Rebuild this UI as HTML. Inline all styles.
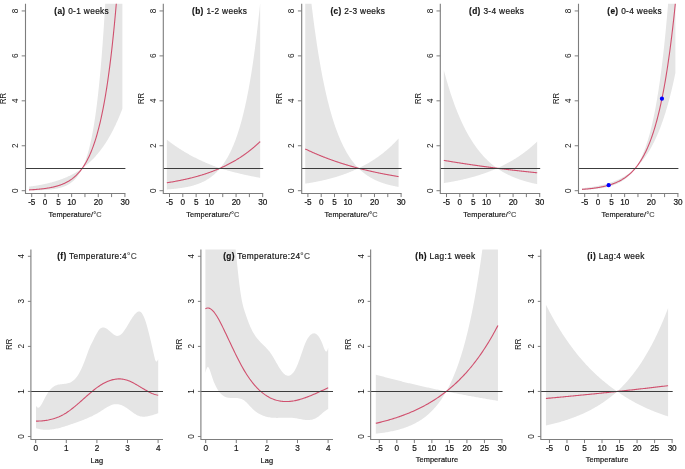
<!DOCTYPE html>
<html><head><meta charset="utf-8"><style>
html,body{margin:0;padding:0;background:#fff;width:685px;height:469px;overflow:hidden}
svg{display:block}
text{font-family:"Liberation Sans", sans-serif;fill:#151515;stroke:#151515;stroke-width:0.2px}
.tk{font-size:8.2px;letter-spacing:-0.15px}
.lb{font-size:7.4px;letter-spacing:0.1px}
.tt{font-size:8.3px;letter-spacing:0.35px}
.rr{font-size:8.4px}
.tkr{stroke:none}
.rr{stroke:none}
</style></head><body>
<svg width="685" height="469" viewBox="0 0 685 469">
<rect width="685" height="469" fill="#fff"/>
<clipPath id="ct0"><rect x="25.5" y="3.8" width="101.9" height="189.7"/></clipPath>
<g clip-path="url(#ct0)">
<path d="M29.04,186.68 L29.51,186.61 L29.98,186.55 L30.44,186.49 L30.91,186.43 L31.38,186.36 L31.85,186.29 L32.32,186.23 L32.79,186.16 L33.26,186.09 L33.73,186.02 L34.2,185.95 L34.67,185.87 L35.13,185.8 L35.6,185.73 L36.07,185.65 L36.54,185.57 L37.01,185.49 L37.48,185.42 L37.95,185.33 L38.42,185.25 L38.89,185.17 L39.36,185.09 L39.82,185 L40.29,184.91 L40.76,184.82 L41.23,184.73 L41.7,184.64 L42.17,184.55 L42.64,184.46 L43.11,184.36 L43.58,184.27 L44.05,184.17 L44.52,184.07 L44.98,183.97 L45.45,183.86 L45.92,183.76 L46.39,183.65 L46.86,183.55 L47.33,183.44 L47.8,183.33 L48.27,183.21 L48.74,183.1 L49.21,182.98 L49.67,182.86 L50.14,182.74 L50.61,182.62 L51.08,182.5 L51.55,182.38 L52.02,182.25 L52.49,182.12 L52.96,181.99 L53.43,181.86 L53.9,181.72 L54.36,181.58 L54.83,181.44 L55.3,181.3 L55.77,181.16 L56.24,181.01 L56.71,180.87 L57.18,180.72 L57.65,180.56 L58.12,180.41 L58.59,180.25 L59.06,180.09 L59.52,179.93 L59.99,179.77 L60.46,179.6 L60.93,179.43 L61.4,179.26 L61.87,179.08 L62.34,178.91 L62.81,178.73 L63.28,178.54 L63.75,178.36 L64.21,178.17 L64.68,177.98 L65.15,177.78 L65.62,177.59 L66.09,177.39 L66.56,177.18 L67.03,176.98 L67.5,176.77 L67.97,176.55 L68.44,176.34 L68.91,176.12 L69.37,175.9 L69.84,175.67 L70.31,175.44 L70.78,175.21 L71.25,174.97 L71.72,174.73 L72.19,174.49 L72.66,174.24 L73.13,173.99 L73.6,173.73 L74.06,173.48 L74.53,173.21 L75,172.95 L75.47,172.68 L75.94,172.4 L76.41,172.12 L76.88,171.84 L77.35,171.55 L77.82,171.26 L78.29,170.96 L78.75,170.66 L79.22,170.35 L79.69,170.04 L80.16,169.73 L80.63,169.41 L81.1,169.08 L81.57,168.75 L82.04,168.42 L82.51,167.79 L82.98,166.78 L83.45,165.72 L83.91,164.61 L84.38,163.45 L84.85,162.25 L85.32,160.99 L85.79,159.67 L86.26,158.3 L86.73,156.86 L87.2,155.37 L87.67,153.8 L88.14,152.17 L88.6,150.46 L89.07,148.68 L89.54,146.82 L90.01,144.87 L90.48,142.85 L90.95,140.73 L91.42,138.51 L91.89,136.2 L92.36,133.79 L92.83,131.27 L93.29,128.64 L93.76,125.89 L94.23,123.02 L94.7,120.02 L95.17,116.89 L95.64,113.63 L96.11,110.21 L96.58,106.65 L97.05,102.93 L97.52,99.04 L97.99,94.98 L98.45,90.74 L98.92,86.32 L99.39,81.69 L99.86,76.87 L100.33,71.83 L100.8,66.56 L101.27,61.07 L101.74,55.33 L102.21,49.33 L102.68,43.07 L103.14,36.53 L103.61,29.71 L104.08,22.58 L104.55,15.13 L105.02,7.36 L105.49,-0.76 L105.96,-9.24 L106.43,-18.09 L106.9,-27.33 L107.37,-36.99 L107.84,-47.07 L108.3,-50 L108.77,-50 L109.24,-50 L109.71,-50 L110.18,-50 L110.65,-50 L111.12,-50 L111.59,-50 L112.06,-50 L112.53,-50 L112.99,-50 L113.46,-50 L113.93,-50 L114.4,-50 L114.87,-50 L115.34,-50 L115.81,-50 L116.28,-50 L116.75,-50 L117.22,-50 L117.68,-50 L118.15,-50 L118.62,-50 L119.09,-50 L119.56,-50 L120.03,-50 L120.5,-50 L120.97,-50 L121.44,-50 L121.91,-50 L122.38,-50 L122.38,108.72 L121.91,109.95 L121.44,111.17 L120.97,112.36 L120.5,113.54 L120.03,114.7 L119.56,115.84 L119.09,116.97 L118.62,118.08 L118.15,119.17 L117.68,120.24 L117.22,121.3 L116.75,122.35 L116.28,123.37 L115.81,124.38 L115.34,125.38 L114.87,126.36 L114.4,127.33 L113.93,128.28 L113.46,129.22 L112.99,130.15 L112.53,131.06 L112.06,131.95 L111.59,132.84 L111.12,133.71 L110.65,134.56 L110.18,135.41 L109.71,136.24 L109.24,137.06 L108.77,137.86 L108.3,138.66 L107.84,139.44 L107.37,140.21 L106.9,140.97 L106.43,141.72 L105.96,142.45 L105.49,143.18 L105.02,143.89 L104.55,144.6 L104.08,145.29 L103.61,145.97 L103.14,146.64 L102.68,147.31 L102.21,147.96 L101.74,148.6 L101.27,149.23 L100.8,149.86 L100.33,150.47 L99.86,151.08 L99.39,151.67 L98.92,152.26 L98.45,152.84 L97.99,153.41 L97.52,153.97 L97.05,154.52 L96.58,155.06 L96.11,155.6 L95.64,156.13 L95.17,156.65 L94.7,157.16 L94.23,157.66 L93.76,158.16 L93.29,158.65 L92.83,159.13 L92.36,159.6 L91.89,160.07 L91.42,160.53 L90.95,160.99 L90.48,161.43 L90.01,161.87 L89.54,162.31 L89.07,162.73 L88.6,163.15 L88.14,163.57 L87.67,163.98 L87.2,164.38 L86.73,164.77 L86.26,165.16 L85.79,165.55 L85.32,165.92 L84.85,166.3 L84.38,166.66 L83.91,167.03 L83.45,167.38 L82.98,167.73 L82.51,168.08 L82.04,168.76 L81.57,169.69 L81.1,170.58 L80.63,171.44 L80.16,172.25 L79.69,173.03 L79.22,173.78 L78.75,174.5 L78.29,175.19 L77.82,175.85 L77.35,176.48 L76.88,177.08 L76.41,177.66 L75.94,178.21 L75.47,178.74 L75,179.25 L74.53,179.73 L74.06,180.2 L73.6,180.64 L73.13,181.07 L72.66,181.48 L72.19,181.87 L71.72,182.24 L71.25,182.6 L70.78,182.94 L70.31,183.27 L69.84,183.59 L69.37,183.89 L68.91,184.18 L68.44,184.46 L67.97,184.72 L67.5,184.97 L67.03,185.22 L66.56,185.45 L66.09,185.67 L65.62,185.88 L65.15,186.09 L64.68,186.28 L64.21,186.47 L63.75,186.65 L63.28,186.82 L62.81,186.99 L62.34,187.14 L61.87,187.3 L61.4,187.44 L60.93,187.58 L60.46,187.71 L59.99,187.84 L59.52,187.96 L59.06,188.07 L58.59,188.19 L58.12,188.29 L57.65,188.39 L57.18,188.49 L56.71,188.59 L56.24,188.68 L55.77,188.76 L55.3,188.84 L54.83,188.92 L54.36,189 L53.9,189.07 L53.43,189.14 L52.96,189.21 L52.49,189.27 L52.02,189.33 L51.55,189.39 L51.08,189.44 L50.61,189.5 L50.14,189.55 L49.67,189.6 L49.21,189.64 L48.74,189.69 L48.27,189.73 L47.8,189.77 L47.33,189.81 L46.86,189.85 L46.39,189.89 L45.92,189.92 L45.45,189.95 L44.98,189.98 L44.52,190.01 L44.05,190.04 L43.58,190.07 L43.11,190.1 L42.64,190.12 L42.17,190.15 L41.7,190.17 L41.23,190.19 L40.76,190.22 L40.29,190.24 L39.82,190.26 L39.36,190.27 L38.89,190.29 L38.42,190.31 L37.95,190.33 L37.48,190.34 L37.01,190.36 L36.54,190.37 L36.07,190.39 L35.6,190.4 L35.13,190.41 L34.67,190.42 L34.2,190.44 L33.73,190.45 L33.26,190.46 L32.79,190.47 L32.32,190.48 L31.85,190.49 L31.38,190.5 L30.91,190.5 L30.44,190.51 L29.98,190.52 L29.51,190.53 L29.04,190.54 Z" fill="#e5e5e5"/>
<path d="M29.04,189.89 L29.51,189.86 L29.98,189.84 L30.44,189.81 L30.91,189.79 L31.38,189.76 L31.85,189.73 L32.32,189.7 L32.79,189.67 L33.26,189.64 L33.73,189.61 L34.2,189.58 L34.67,189.55 L35.13,189.51 L35.6,189.48 L36.07,189.44 L36.54,189.4 L37.01,189.36 L37.48,189.32 L37.95,189.28 L38.42,189.24 L38.89,189.2 L39.36,189.15 L39.82,189.11 L40.29,189.06 L40.76,189.01 L41.23,188.96 L41.7,188.91 L42.17,188.86 L42.64,188.8 L43.11,188.75 L43.58,188.69 L44.05,188.63 L44.52,188.57 L44.98,188.5 L45.45,188.44 L45.92,188.37 L46.39,188.3 L46.86,188.23 L47.33,188.16 L47.8,188.08 L48.27,188.01 L48.74,187.93 L49.21,187.84 L49.67,187.76 L50.14,187.67 L50.61,187.58 L51.08,187.49 L51.55,187.39 L52.02,187.3 L52.49,187.2 L52.96,187.09 L53.43,186.98 L53.9,186.87 L54.36,186.76 L54.83,186.64 L55.3,186.52 L55.77,186.4 L56.24,186.27 L56.71,186.14 L57.18,186.01 L57.65,185.87 L58.12,185.72 L58.59,185.57 L59.06,185.42 L59.52,185.27 L59.99,185.11 L60.46,184.94 L60.93,184.77 L61.4,184.59 L61.87,184.41 L62.34,184.22 L62.81,184.03 L63.28,183.83 L63.75,183.63 L64.21,183.42 L64.68,183.2 L65.15,182.98 L65.62,182.75 L66.09,182.52 L66.56,182.28 L67.03,182.03 L67.5,181.77 L67.97,181.5 L68.44,181.23 L68.91,180.95 L69.37,180.66 L69.84,180.36 L70.31,180.05 L70.78,179.74 L71.25,179.41 L71.72,179.08 L72.19,178.73 L72.66,178.38 L73.13,178.01 L73.6,177.64 L74.06,177.25 L74.53,176.85 L75,176.44 L75.47,176.02 L75.94,175.58 L76.41,175.13 L76.88,174.67 L77.35,174.2 L77.82,173.71 L78.29,173.2 L78.75,172.68 L79.22,172.15 L79.69,171.6 L80.16,171.03 L80.63,170.45 L81.1,169.85 L81.57,169.23 L82.04,168.59 L82.51,167.93 L82.98,167.26 L83.45,166.56 L83.91,165.85 L84.38,165.11 L84.85,164.35 L85.32,163.57 L85.79,162.76 L86.26,161.93 L86.73,161.08 L87.2,160.2 L87.67,159.3 L88.14,158.37 L88.6,157.41 L89.07,156.42 L89.54,155.4 L90.01,154.35 L90.48,153.28 L90.95,152.17 L91.42,151.02 L91.89,149.84 L92.36,148.63 L92.83,147.38 L93.29,146.1 L93.76,144.78 L94.23,143.41 L94.7,142.01 L95.17,140.57 L95.64,139.08 L96.11,137.55 L96.58,135.97 L97.05,134.35 L97.52,132.67 L97.99,130.95 L98.45,129.18 L98.92,127.35 L99.39,125.48 L99.86,123.54 L100.33,121.55 L100.8,119.5 L101.27,117.38 L101.74,115.21 L102.21,112.97 L102.68,110.66 L103.14,108.29 L103.61,105.84 L104.08,103.32 L104.55,100.73 L105.02,98.06 L105.49,95.31 L105.96,92.48 L106.43,89.57 L106.9,86.57 L107.37,83.48 L107.84,80.3 L108.3,77.02 L108.77,73.65 L109.24,70.18 L109.71,66.6 L110.18,62.92 L110.65,59.13 L111.12,55.23 L111.59,51.21 L112.06,47.07 L112.53,42.81 L112.99,38.42 L113.46,33.9 L113.93,29.25 L114.4,24.46 L114.87,19.53 L115.34,14.45 L115.81,9.22 L116.28,3.83 L116.75,-1.71 L117.22,-7.42 L117.68,-13.3 L118.15,-19.35 L118.62,-25.58 L119.09,-32 L119.56,-38.61 L120.03,-45.41 L120.5,-50 L120.97,-50 L121.44,-50 L121.91,-50 L122.38,-50" fill="none" stroke="#d0506e" stroke-width="1.1"/>
</g>
<line x1="25.5" y1="168.5" x2="125.4" y2="168.5" stroke="#3c3c3c" stroke-width="1"/>
<path d="M25.5,3.8 V193.5 H125.4" fill="none" stroke="#7d7d7d" stroke-width="1.1"/>
<line x1="21.7" y1="190.7" x2="25.5" y2="190.7" stroke="#7d7d7d" stroke-width="1"/>
<line x1="21.7" y1="145.76" x2="25.5" y2="145.76" stroke="#7d7d7d" stroke-width="1"/>
<line x1="21.7" y1="100.82" x2="25.5" y2="100.82" stroke="#7d7d7d" stroke-width="1"/>
<line x1="21.7" y1="55.88" x2="25.5" y2="55.88" stroke="#7d7d7d" stroke-width="1"/>
<line x1="21.7" y1="10.94" x2="25.5" y2="10.94" stroke="#7d7d7d" stroke-width="1"/>
<line x1="31.7" y1="193.5" x2="31.7" y2="197.1" stroke="#7d7d7d" stroke-width="1"/>
<line x1="45.02" y1="193.5" x2="45.02" y2="197.1" stroke="#7d7d7d" stroke-width="1"/>
<line x1="58.33" y1="193.5" x2="58.33" y2="197.1" stroke="#7d7d7d" stroke-width="1"/>
<line x1="71.64" y1="193.5" x2="71.64" y2="197.1" stroke="#7d7d7d" stroke-width="1"/>
<line x1="84.96" y1="193.5" x2="84.96" y2="197.1" stroke="#7d7d7d" stroke-width="1"/>
<line x1="98.27" y1="193.5" x2="98.27" y2="197.1" stroke="#7d7d7d" stroke-width="1"/>
<line x1="111.59" y1="193.5" x2="111.59" y2="197.1" stroke="#7d7d7d" stroke-width="1"/>
<line x1="124.91" y1="193.5" x2="124.91" y2="197.1" stroke="#7d7d7d" stroke-width="1"/>
<clipPath id="ct1"><rect x="163.3" y="3.8" width="101.9" height="189.7"/></clipPath>
<g clip-path="url(#ct1)">
<path d="M166.84,139.68 L167.31,140.05 L167.78,140.41 L168.24,140.78 L168.71,141.13 L169.18,141.49 L169.65,141.85 L170.12,142.2 L170.59,142.55 L171.06,142.89 L171.53,143.24 L172,143.58 L172.47,143.92 L172.93,144.25 L173.4,144.59 L173.87,144.92 L174.34,145.25 L174.81,145.58 L175.28,145.9 L175.75,146.22 L176.22,146.54 L176.69,146.86 L177.16,147.18 L177.62,147.49 L178.09,147.8 L178.56,148.11 L179.03,148.42 L179.5,148.72 L179.97,149.02 L180.44,149.32 L180.91,149.62 L181.38,149.91 L181.85,150.21 L182.32,150.5 L182.78,150.79 L183.25,151.08 L183.72,151.36 L184.19,151.64 L184.66,151.93 L185.13,152.2 L185.6,152.48 L186.07,152.76 L186.54,153.03 L187.01,153.3 L187.47,153.57 L187.94,153.84 L188.41,154.1 L188.88,154.37 L189.35,154.63 L189.82,154.89 L190.29,155.14 L190.76,155.4 L191.23,155.65 L191.7,155.91 L192.16,156.16 L192.63,156.4 L193.1,156.65 L193.57,156.9 L194.04,157.14 L194.51,157.38 L194.98,157.62 L195.45,157.86 L195.92,158.1 L196.39,158.33 L196.86,158.56 L197.32,158.79 L197.79,159.02 L198.26,159.25 L198.73,159.48 L199.2,159.7 L199.67,159.93 L200.14,160.15 L200.61,160.37 L201.08,160.59 L201.55,160.8 L202.01,161.02 L202.48,161.23 L202.95,161.44 L203.42,161.65 L203.89,161.86 L204.36,162.07 L204.83,162.28 L205.3,162.48 L205.77,162.68 L206.24,162.88 L206.71,163.08 L207.17,163.28 L207.64,163.48 L208.11,163.68 L208.58,163.87 L209.05,164.06 L209.52,164.26 L209.99,164.45 L210.46,164.63 L210.93,164.82 L211.4,165.01 L211.86,165.19 L212.33,165.38 L212.8,165.56 L213.27,165.74 L213.74,165.92 L214.21,166.1 L214.68,166.28 L215.15,166.45 L215.62,166.63 L216.09,166.8 L216.55,166.97 L217.02,167.14 L217.49,167.31 L217.96,167.48 L218.43,167.65 L218.9,167.81 L219.37,167.98 L219.84,168.14 L220.31,167.98 L220.78,167.41 L221.25,166.82 L221.71,166.22 L222.18,165.61 L222.65,164.97 L223.12,164.33 L223.59,163.66 L224.06,162.98 L224.53,162.29 L225,161.57 L225.47,160.84 L225.94,160.09 L226.4,159.32 L226.87,158.53 L227.34,157.72 L227.81,156.89 L228.28,156.04 L228.75,155.17 L229.22,154.28 L229.69,153.36 L230.16,152.42 L230.63,151.46 L231.09,150.47 L231.56,149.46 L232.03,148.43 L232.5,147.36 L232.97,146.27 L233.44,145.16 L233.91,144.01 L234.38,142.84 L234.85,141.63 L235.32,140.4 L235.79,139.14 L236.25,137.84 L236.72,136.51 L237.19,135.15 L237.66,133.75 L238.13,132.32 L238.6,130.85 L239.07,129.34 L239.54,127.8 L240.01,126.22 L240.48,124.6 L240.94,122.94 L241.41,121.23 L241.88,119.49 L242.35,117.7 L242.82,115.86 L243.29,113.98 L243.76,112.05 L244.23,110.07 L244.7,108.04 L245.17,105.96 L245.64,103.83 L246.1,101.65 L246.57,99.41 L247.04,97.12 L247.51,94.76 L247.98,92.35 L248.45,89.88 L248.92,87.34 L249.39,84.74 L249.86,82.08 L250.33,79.35 L250.79,76.55 L251.26,73.68 L251.73,70.73 L252.2,67.72 L252.67,64.62 L253.14,61.45 L253.61,58.2 L254.08,54.87 L254.55,51.46 L255.02,47.96 L255.48,44.37 L255.95,40.69 L256.42,36.91 L256.89,33.05 L257.36,29.08 L257.83,25.02 L258.3,20.85 L258.77,16.58 L259.24,12.2 L259.71,7.72 L260.18,3.12 L260.18,177.82 L259.71,177.74 L259.24,177.66 L258.77,177.57 L258.3,177.48 L257.83,177.4 L257.36,177.31 L256.89,177.22 L256.42,177.14 L255.95,177.05 L255.48,176.96 L255.02,176.87 L254.55,176.78 L254.08,176.69 L253.61,176.59 L253.14,176.5 L252.67,176.41 L252.2,176.32 L251.73,176.22 L251.26,176.13 L250.79,176.03 L250.33,175.94 L249.86,175.84 L249.39,175.74 L248.92,175.64 L248.45,175.55 L247.98,175.45 L247.51,175.35 L247.04,175.25 L246.57,175.15 L246.1,175.04 L245.64,174.94 L245.17,174.84 L244.7,174.74 L244.23,174.63 L243.76,174.53 L243.29,174.42 L242.82,174.31 L242.35,174.21 L241.88,174.1 L241.41,173.99 L240.94,173.88 L240.48,173.77 L240.01,173.66 L239.54,173.55 L239.07,173.44 L238.6,173.32 L238.13,173.21 L237.66,173.1 L237.19,172.98 L236.72,172.86 L236.25,172.75 L235.79,172.63 L235.32,172.51 L234.85,172.39 L234.38,172.27 L233.91,172.15 L233.44,172.03 L232.97,171.91 L232.5,171.79 L232.03,171.66 L231.56,171.54 L231.09,171.41 L230.63,171.29 L230.16,171.16 L229.69,171.03 L229.22,170.9 L228.75,170.78 L228.28,170.65 L227.81,170.51 L227.34,170.38 L226.87,170.25 L226.4,170.12 L225.94,169.98 L225.47,169.85 L225,169.71 L224.53,169.57 L224.06,169.43 L223.59,169.29 L223.12,169.15 L222.65,169.01 L222.18,168.87 L221.71,168.73 L221.25,168.59 L220.78,168.44 L220.31,168.3 L219.84,168.54 L219.37,169.1 L218.9,169.65 L218.43,170.18 L217.96,170.7 L217.49,171.2 L217.02,171.69 L216.55,172.17 L216.09,172.64 L215.62,173.09 L215.15,173.54 L214.68,173.97 L214.21,174.39 L213.74,174.8 L213.27,175.2 L212.8,175.6 L212.33,175.98 L211.86,176.35 L211.4,176.71 L210.93,177.06 L210.46,177.41 L209.99,177.74 L209.52,178.07 L209.05,178.39 L208.58,178.7 L208.11,179 L207.64,179.29 L207.17,179.58 L206.71,179.86 L206.24,180.14 L205.77,180.4 L205.3,180.66 L204.83,180.92 L204.36,181.16 L203.89,181.4 L203.42,181.64 L202.95,181.87 L202.48,182.09 L202.01,182.31 L201.55,182.52 L201.08,182.72 L200.61,182.92 L200.14,183.12 L199.67,183.31 L199.2,183.5 L198.73,183.68 L198.26,183.86 L197.79,184.03 L197.32,184.2 L196.86,184.36 L196.39,184.52 L195.92,184.68 L195.45,184.83 L194.98,184.98 L194.51,185.12 L194.04,185.26 L193.57,185.4 L193.1,185.53 L192.63,185.66 L192.16,185.79 L191.7,185.91 L191.23,186.03 L190.76,186.15 L190.29,186.27 L189.82,186.38 L189.35,186.49 L188.88,186.59 L188.41,186.7 L187.94,186.8 L187.47,186.9 L187.01,186.99 L186.54,187.09 L186.07,187.18 L185.6,187.27 L185.13,187.35 L184.66,187.44 L184.19,187.52 L183.72,187.6 L183.25,187.68 L182.78,187.75 L182.32,187.83 L181.85,187.9 L181.38,187.97 L180.91,188.04 L180.44,188.11 L179.97,188.17 L179.5,188.24 L179.03,188.3 L178.56,188.36 L178.09,188.42 L177.62,188.48 L177.16,188.53 L176.69,188.59 L176.22,188.64 L175.75,188.69 L175.28,188.74 L174.81,188.79 L174.34,188.84 L173.87,188.89 L173.4,188.93 L172.93,188.98 L172.47,189.02 L172,189.06 L171.53,189.1 L171.06,189.14 L170.59,189.18 L170.12,189.22 L169.65,189.26 L169.18,189.3 L168.71,189.33 L168.24,189.37 L167.78,189.4 L167.31,189.43 L166.84,189.46 Z" fill="#e5e5e5"/>
<path d="M166.84,182.76 L167.31,182.68 L167.78,182.61 L168.24,182.54 L168.71,182.46 L169.18,182.39 L169.65,182.31 L170.12,182.23 L170.59,182.15 L171.06,182.08 L171.53,182 L172,181.92 L172.47,181.84 L172.93,181.75 L173.4,181.67 L173.87,181.59 L174.34,181.5 L174.81,181.42 L175.28,181.33 L175.75,181.25 L176.22,181.16 L176.69,181.07 L177.16,180.98 L177.62,180.9 L178.09,180.81 L178.56,180.71 L179.03,180.62 L179.5,180.53 L179.97,180.44 L180.44,180.34 L180.91,180.25 L181.38,180.15 L181.85,180.05 L182.32,179.96 L182.78,179.86 L183.25,179.76 L183.72,179.66 L184.19,179.55 L184.66,179.45 L185.13,179.35 L185.6,179.24 L186.07,179.14 L186.54,179.03 L187.01,178.92 L187.47,178.82 L187.94,178.71 L188.41,178.6 L188.88,178.49 L189.35,178.37 L189.82,178.26 L190.29,178.14 L190.76,178.03 L191.23,177.91 L191.7,177.8 L192.16,177.68 L192.63,177.56 L193.1,177.44 L193.57,177.31 L194.04,177.19 L194.51,177.07 L194.98,176.94 L195.45,176.81 L195.92,176.69 L196.39,176.56 L196.86,176.43 L197.32,176.3 L197.79,176.16 L198.26,176.03 L198.73,175.89 L199.2,175.76 L199.67,175.62 L200.14,175.48 L200.61,175.34 L201.08,175.2 L201.55,175.06 L202.01,174.91 L202.48,174.77 L202.95,174.62 L203.42,174.47 L203.89,174.33 L204.36,174.17 L204.83,174.02 L205.3,173.87 L205.77,173.71 L206.24,173.56 L206.71,173.4 L207.17,173.24 L207.64,173.08 L208.11,172.92 L208.58,172.75 L209.05,172.59 L209.52,172.42 L209.99,172.26 L210.46,172.09 L210.93,171.91 L211.4,171.74 L211.86,171.57 L212.33,171.39 L212.8,171.21 L213.27,171.03 L213.74,170.85 L214.21,170.67 L214.68,170.49 L215.15,170.3 L215.62,170.11 L216.09,169.92 L216.55,169.73 L217.02,169.54 L217.49,169.34 L217.96,169.15 L218.43,168.95 L218.9,168.75 L219.37,168.55 L219.84,168.34 L220.31,168.14 L220.78,167.93 L221.25,167.72 L221.71,167.51 L222.18,167.3 L222.65,167.08 L223.12,166.86 L223.59,166.64 L224.06,166.42 L224.53,166.2 L225,165.97 L225.47,165.75 L225.94,165.52 L226.4,165.28 L226.87,165.05 L227.34,164.81 L227.81,164.58 L228.28,164.34 L228.75,164.09 L229.22,163.85 L229.69,163.6 L230.16,163.35 L230.63,163.1 L231.09,162.85 L231.56,162.59 L232.03,162.33 L232.5,162.07 L232.97,161.81 L233.44,161.54 L233.91,161.27 L234.38,161 L234.85,160.73 L235.32,160.45 L235.79,160.18 L236.25,159.89 L236.72,159.61 L237.19,159.33 L237.66,159.04 L238.13,158.75 L238.6,158.45 L239.07,158.15 L239.54,157.86 L240.01,157.55 L240.48,157.25 L240.94,156.94 L241.41,156.63 L241.88,156.32 L242.35,156 L242.82,155.68 L243.29,155.36 L243.76,155.03 L244.23,154.7 L244.7,154.37 L245.17,154.04 L245.64,153.7 L246.1,153.36 L246.57,153.02 L247.04,152.67 L247.51,152.32 L247.98,151.97 L248.45,151.61 L248.92,151.25 L249.39,150.89 L249.86,150.52 L250.33,150.15 L250.79,149.78 L251.26,149.4 L251.73,149.02 L252.2,148.64 L252.67,148.25 L253.14,147.86 L253.61,147.47 L254.08,147.07 L254.55,146.67 L255.02,146.26 L255.48,145.86 L255.95,145.44 L256.42,145.03 L256.89,144.61 L257.36,144.18 L257.83,143.75 L258.3,143.32 L258.77,142.89 L259.24,142.45 L259.71,142 L260.18,141.55" fill="none" stroke="#d0506e" stroke-width="1.1"/>
</g>
<line x1="163.3" y1="168.5" x2="263.2" y2="168.5" stroke="#3c3c3c" stroke-width="1"/>
<path d="M163.3,3.8 V193.5 H263.2" fill="none" stroke="#7d7d7d" stroke-width="1.1"/>
<line x1="159.5" y1="190.7" x2="163.3" y2="190.7" stroke="#7d7d7d" stroke-width="1"/>
<line x1="159.5" y1="145.76" x2="163.3" y2="145.76" stroke="#7d7d7d" stroke-width="1"/>
<line x1="159.5" y1="100.82" x2="163.3" y2="100.82" stroke="#7d7d7d" stroke-width="1"/>
<line x1="159.5" y1="55.88" x2="163.3" y2="55.88" stroke="#7d7d7d" stroke-width="1"/>
<line x1="159.5" y1="10.94" x2="163.3" y2="10.94" stroke="#7d7d7d" stroke-width="1"/>
<line x1="169.5" y1="193.5" x2="169.5" y2="197.1" stroke="#7d7d7d" stroke-width="1"/>
<line x1="182.81" y1="193.5" x2="182.81" y2="197.1" stroke="#7d7d7d" stroke-width="1"/>
<line x1="196.13" y1="193.5" x2="196.13" y2="197.1" stroke="#7d7d7d" stroke-width="1"/>
<line x1="209.44" y1="193.5" x2="209.44" y2="197.1" stroke="#7d7d7d" stroke-width="1"/>
<line x1="222.76" y1="193.5" x2="222.76" y2="197.1" stroke="#7d7d7d" stroke-width="1"/>
<line x1="236.07" y1="193.5" x2="236.07" y2="197.1" stroke="#7d7d7d" stroke-width="1"/>
<line x1="249.39" y1="193.5" x2="249.39" y2="197.1" stroke="#7d7d7d" stroke-width="1"/>
<line x1="262.7" y1="193.5" x2="262.7" y2="197.1" stroke="#7d7d7d" stroke-width="1"/>
<clipPath id="ct2"><rect x="301.7" y="3.8" width="101.9" height="189.7"/></clipPath>
<g clip-path="url(#ct2)">
<path d="M305.24,-50 L305.71,-50 L306.18,-46.74 L306.64,-41.77 L307.11,-36.91 L307.58,-32.15 L308.05,-27.49 L308.52,-22.93 L308.99,-18.46 L309.46,-14.08 L309.93,-9.8 L310.4,-5.61 L310.87,-1.5 L311.33,2.52 L311.8,6.45 L312.27,10.31 L312.74,14.08 L313.21,17.77 L313.68,21.39 L314.15,24.93 L314.62,28.4 L315.09,31.79 L315.56,35.11 L316.02,38.37 L316.49,41.55 L316.96,44.67 L317.43,47.73 L317.9,50.72 L318.37,53.65 L318.84,56.51 L319.31,59.32 L319.78,62.07 L320.25,64.76 L320.72,67.39 L321.18,69.97 L321.65,72.49 L322.12,74.97 L322.59,77.39 L323.06,79.76 L323.53,82.08 L324,84.35 L324.47,86.57 L324.94,88.75 L325.41,90.88 L325.87,92.97 L326.34,95.01 L326.81,97.01 L327.28,98.97 L327.75,100.89 L328.22,102.77 L328.69,104.61 L329.16,106.41 L329.63,108.17 L330.1,109.9 L330.56,111.59 L331.03,113.24 L331.5,114.86 L331.97,116.45 L332.44,118 L332.91,119.52 L333.38,121.01 L333.85,122.47 L334.32,123.9 L334.79,125.29 L335.26,126.66 L335.72,128 L336.19,129.31 L336.66,130.6 L337.13,131.85 L337.6,133.08 L338.07,134.29 L338.54,135.47 L339.01,136.62 L339.48,137.75 L339.95,138.86 L340.41,139.95 L340.88,141.01 L341.35,142.05 L341.82,143.06 L342.29,144.06 L342.76,145.04 L343.23,145.99 L343.7,146.93 L344.17,147.84 L344.64,148.74 L345.11,149.61 L345.57,150.47 L346.04,151.32 L346.51,152.14 L346.98,152.95 L347.45,153.74 L347.92,154.51 L348.39,155.27 L348.86,156.01 L349.33,156.73 L349.8,157.44 L350.26,158.14 L350.73,158.82 L351.2,159.49 L351.67,160.14 L352.14,160.78 L352.61,161.4 L353.08,162.02 L353.55,162.62 L354.02,163.2 L354.49,163.78 L354.95,164.34 L355.42,164.89 L355.89,165.43 L356.36,165.96 L356.83,166.48 L357.3,166.98 L357.77,167.48 L358.24,167.97 L358.71,168.13 L359.18,167.91 L359.65,167.68 L360.11,167.45 L360.58,167.22 L361.05,166.99 L361.52,166.75 L361.99,166.52 L362.46,166.28 L362.93,166.04 L363.4,165.79 L363.87,165.54 L364.34,165.29 L364.8,165.04 L365.27,164.79 L365.74,164.53 L366.21,164.27 L366.68,164.01 L367.15,163.75 L367.62,163.48 L368.09,163.21 L368.56,162.94 L369.03,162.66 L369.49,162.38 L369.96,162.1 L370.43,161.82 L370.9,161.53 L371.37,161.24 L371.84,160.95 L372.31,160.66 L372.78,160.36 L373.25,160.06 L373.72,159.75 L374.19,159.45 L374.65,159.14 L375.12,158.83 L375.59,158.51 L376.06,158.19 L376.53,157.87 L377,157.54 L377.47,157.21 L377.94,156.88 L378.41,156.55 L378.88,156.21 L379.34,155.87 L379.81,155.52 L380.28,155.17 L380.75,154.82 L381.22,154.46 L381.69,154.11 L382.16,153.74 L382.63,153.38 L383.1,153.01 L383.57,152.63 L384.04,152.26 L384.5,151.87 L384.97,151.49 L385.44,151.1 L385.91,150.71 L386.38,150.31 L386.85,149.91 L387.32,149.51 L387.79,149.1 L388.26,148.69 L388.73,148.27 L389.19,147.85 L389.66,147.42 L390.13,147 L390.6,146.56 L391.07,146.13 L391.54,145.68 L392.01,145.24 L392.48,144.79 L392.95,144.33 L393.42,143.87 L393.88,143.41 L394.35,142.94 L394.82,142.47 L395.29,141.99 L395.76,141.5 L396.23,141.02 L396.7,140.52 L397.17,140.03 L397.64,139.52 L398.11,139.02 L398.58,138.51 L398.58,186.9 L398.11,186.82 L397.64,186.73 L397.17,186.65 L396.7,186.57 L396.23,186.48 L395.76,186.39 L395.29,186.3 L394.82,186.21 L394.35,186.11 L393.88,186.02 L393.42,185.92 L392.95,185.82 L392.48,185.71 L392.01,185.61 L391.54,185.5 L391.07,185.39 L390.6,185.28 L390.13,185.17 L389.66,185.05 L389.19,184.93 L388.73,184.81 L388.26,184.69 L387.79,184.56 L387.32,184.43 L386.85,184.3 L386.38,184.17 L385.91,184.03 L385.44,183.89 L384.97,183.75 L384.5,183.6 L384.04,183.45 L383.57,183.3 L383.1,183.15 L382.63,182.99 L382.16,182.82 L381.69,182.66 L381.22,182.49 L380.75,182.32 L380.28,182.14 L379.81,181.96 L379.34,181.78 L378.88,181.59 L378.41,181.4 L377.94,181.21 L377.47,181.01 L377,180.8 L376.53,180.59 L376.06,180.38 L375.59,180.17 L375.12,179.94 L374.65,179.72 L374.19,179.49 L373.72,179.25 L373.25,179.01 L372.78,178.77 L372.31,178.52 L371.84,178.26 L371.37,178 L370.9,177.73 L370.43,177.46 L369.96,177.18 L369.49,176.9 L369.03,176.61 L368.56,176.31 L368.09,176.01 L367.62,175.7 L367.15,175.39 L366.68,175.06 L366.21,174.74 L365.74,174.4 L365.27,174.06 L364.8,173.71 L364.34,173.35 L363.87,172.99 L363.4,172.62 L362.93,172.24 L362.46,171.85 L361.99,171.45 L361.52,171.05 L361.05,170.64 L360.58,170.21 L360.11,169.78 L359.65,169.34 L359.18,168.9 L358.71,168.44 L358.24,168.36 L357.77,168.58 L357.3,168.81 L356.83,169.03 L356.36,169.25 L355.89,169.47 L355.42,169.68 L354.95,169.9 L354.49,170.11 L354.02,170.32 L353.55,170.53 L353.08,170.73 L352.61,170.93 L352.14,171.14 L351.67,171.33 L351.2,171.53 L350.73,171.73 L350.26,171.92 L349.8,172.11 L349.33,172.3 L348.86,172.49 L348.39,172.67 L347.92,172.85 L347.45,173.04 L346.98,173.21 L346.51,173.39 L346.04,173.57 L345.57,173.74 L345.11,173.91 L344.64,174.09 L344.17,174.25 L343.7,174.42 L343.23,174.59 L342.76,174.75 L342.29,174.91 L341.82,175.07 L341.35,175.23 L340.88,175.39 L340.41,175.54 L339.95,175.7 L339.48,175.85 L339.01,176 L338.54,176.15 L338.07,176.3 L337.6,176.45 L337.13,176.59 L336.66,176.73 L336.19,176.88 L335.72,177.02 L335.26,177.16 L334.79,177.29 L334.32,177.43 L333.85,177.56 L333.38,177.7 L332.91,177.83 L332.44,177.96 L331.97,178.09 L331.5,178.22 L331.03,178.35 L330.56,178.47 L330.1,178.6 L329.63,178.72 L329.16,178.84 L328.69,178.96 L328.22,179.08 L327.75,179.2 L327.28,179.31 L326.81,179.43 L326.34,179.55 L325.87,179.66 L325.41,179.77 L324.94,179.88 L324.47,179.99 L324,180.1 L323.53,180.21 L323.06,180.31 L322.59,180.42 L322.12,180.52 L321.65,180.63 L321.18,180.73 L320.72,180.83 L320.25,180.93 L319.78,181.03 L319.31,181.13 L318.84,181.23 L318.37,181.32 L317.9,181.42 L317.43,181.51 L316.96,181.61 L316.49,181.7 L316.02,181.79 L315.56,181.88 L315.09,181.97 L314.62,182.06 L314.15,182.15 L313.68,182.23 L313.21,182.32 L312.74,182.41 L312.27,182.49 L311.8,182.57 L311.33,182.66 L310.87,182.74 L310.4,182.82 L309.93,182.9 L309.46,182.98 L308.99,183.06 L308.52,183.13 L308.05,183.21 L307.58,183.29 L307.11,183.36 L306.64,183.44 L306.18,183.51 L305.71,183.58 L305.24,183.66 Z" fill="#e5e5e5"/>
<path d="M305.24,148.93 L305.71,149.16 L306.18,149.38 L306.64,149.61 L307.11,149.83 L307.58,150.05 L308.05,150.28 L308.52,150.5 L308.99,150.72 L309.46,150.93 L309.93,151.15 L310.4,151.36 L310.87,151.58 L311.33,151.79 L311.8,152 L312.27,152.21 L312.74,152.42 L313.21,152.63 L313.68,152.84 L314.15,153.05 L314.62,153.25 L315.09,153.45 L315.56,153.66 L316.02,153.86 L316.49,154.06 L316.96,154.26 L317.43,154.46 L317.9,154.66 L318.37,154.85 L318.84,155.05 L319.31,155.24 L319.78,155.43 L320.25,155.63 L320.72,155.82 L321.18,156.01 L321.65,156.2 L322.12,156.38 L322.59,156.57 L323.06,156.76 L323.53,156.94 L324,157.13 L324.47,157.31 L324.94,157.49 L325.41,157.67 L325.87,157.85 L326.34,158.03 L326.81,158.21 L327.28,158.38 L327.75,158.56 L328.22,158.74 L328.69,158.91 L329.16,159.08 L329.63,159.25 L330.1,159.43 L330.56,159.6 L331.03,159.77 L331.5,159.93 L331.97,160.1 L332.44,160.27 L332.91,160.43 L333.38,160.6 L333.85,160.76 L334.32,160.93 L334.79,161.09 L335.26,161.25 L335.72,161.41 L336.19,161.57 L336.66,161.73 L337.13,161.88 L337.6,162.04 L338.07,162.2 L338.54,162.35 L339.01,162.51 L339.48,162.66 L339.95,162.81 L340.41,162.97 L340.88,163.12 L341.35,163.27 L341.82,163.42 L342.29,163.56 L342.76,163.71 L343.23,163.86 L343.7,164.01 L344.17,164.15 L344.64,164.3 L345.11,164.44 L345.57,164.58 L346.04,164.72 L346.51,164.87 L346.98,165.01 L347.45,165.15 L347.92,165.29 L348.39,165.42 L348.86,165.56 L349.33,165.7 L349.8,165.83 L350.26,165.97 L350.73,166.1 L351.2,166.24 L351.67,166.37 L352.14,166.5 L352.61,166.64 L353.08,166.77 L353.55,166.9 L354.02,167.03 L354.49,167.16 L354.95,167.28 L355.42,167.41 L355.89,167.54 L356.36,167.66 L356.83,167.79 L357.3,167.91 L357.77,168.04 L358.24,168.16 L358.71,168.28 L359.18,168.41 L359.65,168.53 L360.11,168.65 L360.58,168.77 L361.05,168.89 L361.52,169.01 L361.99,169.13 L362.46,169.24 L362.93,169.36 L363.4,169.48 L363.87,169.59 L364.34,169.71 L364.8,169.82 L365.27,169.93 L365.74,170.05 L366.21,170.16 L366.68,170.27 L367.15,170.38 L367.62,170.49 L368.09,170.6 L368.56,170.71 L369.03,170.82 L369.49,170.93 L369.96,171.04 L370.43,171.14 L370.9,171.25 L371.37,171.36 L371.84,171.46 L372.31,171.57 L372.78,171.67 L373.25,171.78 L373.72,171.88 L374.19,171.98 L374.65,172.08 L375.12,172.18 L375.59,172.28 L376.06,172.39 L376.53,172.48 L377,172.58 L377.47,172.68 L377.94,172.78 L378.41,172.88 L378.88,172.98 L379.34,173.07 L379.81,173.17 L380.28,173.26 L380.75,173.36 L381.22,173.45 L381.69,173.55 L382.16,173.64 L382.63,173.73 L383.1,173.83 L383.57,173.92 L384.04,174.01 L384.5,174.1 L384.97,174.19 L385.44,174.28 L385.91,174.37 L386.38,174.46 L386.85,174.55 L387.32,174.63 L387.79,174.72 L388.26,174.81 L388.73,174.9 L389.19,174.98 L389.66,175.07 L390.13,175.15 L390.6,175.24 L391.07,175.32 L391.54,175.4 L392.01,175.49 L392.48,175.57 L392.95,175.65 L393.42,175.74 L393.88,175.82 L394.35,175.9 L394.82,175.98 L395.29,176.06 L395.76,176.14 L396.23,176.22 L396.7,176.3 L397.17,176.37 L397.64,176.45 L398.11,176.53 L398.58,176.61" fill="none" stroke="#d0506e" stroke-width="1.1"/>
</g>
<line x1="301.7" y1="168.5" x2="401.6" y2="168.5" stroke="#3c3c3c" stroke-width="1"/>
<path d="M301.7,3.8 V193.5 H401.6" fill="none" stroke="#7d7d7d" stroke-width="1.1"/>
<line x1="297.9" y1="190.7" x2="301.7" y2="190.7" stroke="#7d7d7d" stroke-width="1"/>
<line x1="297.9" y1="145.76" x2="301.7" y2="145.76" stroke="#7d7d7d" stroke-width="1"/>
<line x1="297.9" y1="100.82" x2="301.7" y2="100.82" stroke="#7d7d7d" stroke-width="1"/>
<line x1="297.9" y1="55.88" x2="301.7" y2="55.88" stroke="#7d7d7d" stroke-width="1"/>
<line x1="297.9" y1="10.94" x2="301.7" y2="10.94" stroke="#7d7d7d" stroke-width="1"/>
<line x1="307.9" y1="193.5" x2="307.9" y2="197.1" stroke="#7d7d7d" stroke-width="1"/>
<line x1="321.21" y1="193.5" x2="321.21" y2="197.1" stroke="#7d7d7d" stroke-width="1"/>
<line x1="334.53" y1="193.5" x2="334.53" y2="197.1" stroke="#7d7d7d" stroke-width="1"/>
<line x1="347.84" y1="193.5" x2="347.84" y2="197.1" stroke="#7d7d7d" stroke-width="1"/>
<line x1="361.16" y1="193.5" x2="361.16" y2="197.1" stroke="#7d7d7d" stroke-width="1"/>
<line x1="374.47" y1="193.5" x2="374.47" y2="197.1" stroke="#7d7d7d" stroke-width="1"/>
<line x1="387.79" y1="193.5" x2="387.79" y2="197.1" stroke="#7d7d7d" stroke-width="1"/>
<line x1="401.1" y1="193.5" x2="401.1" y2="197.1" stroke="#7d7d7d" stroke-width="1"/>
<clipPath id="ct3"><rect x="440.3" y="3.8" width="101.9" height="189.7"/></clipPath>
<g clip-path="url(#ct3)">
<path d="M443.84,70.14 L444.31,71.91 L444.78,73.65 L445.24,75.37 L445.71,77.06 L446.18,78.73 L446.65,80.38 L447.12,82 L447.59,83.59 L448.06,85.17 L448.53,86.72 L449,88.24 L449.47,89.75 L449.93,91.23 L450.4,92.69 L450.87,94.13 L451.34,95.55 L451.81,96.95 L452.28,98.32 L452.75,99.68 L453.22,101.02 L453.69,102.33 L454.16,103.63 L454.62,104.91 L455.09,106.17 L455.56,107.41 L456.03,108.63 L456.5,109.84 L456.97,111.03 L457.44,112.2 L457.91,113.35 L458.38,114.49 L458.85,115.61 L459.32,116.71 L459.78,117.8 L460.25,118.87 L460.72,119.92 L461.19,120.96 L461.66,121.98 L462.13,122.99 L462.6,123.99 L463.07,124.97 L463.54,125.93 L464.01,126.88 L464.47,127.82 L464.94,128.75 L465.41,129.65 L465.88,130.55 L466.35,131.43 L466.82,132.31 L467.29,133.16 L467.76,134.01 L468.23,134.84 L468.7,135.66 L469.16,136.47 L469.63,137.27 L470.1,138.05 L470.57,138.82 L471.04,139.59 L471.51,140.34 L471.98,141.08 L472.45,141.8 L472.92,142.52 L473.39,143.23 L473.86,143.93 L474.32,144.61 L474.79,145.29 L475.26,145.96 L475.73,146.61 L476.2,147.26 L476.67,147.9 L477.14,148.53 L477.61,149.15 L478.08,149.76 L478.55,150.36 L479.01,150.95 L479.48,151.54 L479.95,152.11 L480.42,152.68 L480.89,153.24 L481.36,153.79 L481.83,154.33 L482.3,154.86 L482.77,155.39 L483.24,155.91 L483.71,156.42 L484.17,156.92 L484.64,157.42 L485.11,157.91 L485.58,158.39 L486.05,158.86 L486.52,159.33 L486.99,159.79 L487.46,160.25 L487.93,160.69 L488.4,161.13 L488.86,161.57 L489.33,162 L489.8,162.42 L490.27,162.83 L490.74,163.24 L491.21,163.64 L491.68,164.04 L492.15,164.43 L492.62,164.82 L493.09,165.2 L493.55,165.57 L494.02,165.94 L494.49,166.31 L494.96,166.66 L495.43,167.02 L495.9,167.37 L496.37,167.71 L496.84,168.05 L497.31,168.14 L497.78,167.93 L498.25,167.72 L498.71,167.51 L499.18,167.3 L499.65,167.08 L500.12,166.86 L500.59,166.64 L501.06,166.42 L501.53,166.2 L502,165.97 L502.47,165.75 L502.94,165.52 L503.4,165.28 L503.87,165.05 L504.34,164.81 L504.81,164.58 L505.28,164.34 L505.75,164.09 L506.22,163.85 L506.69,163.6 L507.16,163.35 L507.63,163.1 L508.09,162.85 L508.56,162.59 L509.03,162.33 L509.5,162.07 L509.97,161.81 L510.44,161.54 L510.91,161.27 L511.38,161 L511.85,160.73 L512.32,160.45 L512.79,160.18 L513.25,159.89 L513.72,159.61 L514.19,159.33 L514.66,159.04 L515.13,158.75 L515.6,158.45 L516.07,158.15 L516.54,157.86 L517.01,157.55 L517.48,157.25 L517.94,156.94 L518.41,156.63 L518.88,156.32 L519.35,156 L519.82,155.68 L520.29,155.36 L520.76,155.03 L521.23,154.7 L521.7,154.37 L522.17,154.04 L522.64,153.7 L523.1,153.36 L523.57,153.02 L524.04,152.67 L524.51,152.32 L524.98,151.97 L525.45,151.61 L525.92,151.25 L526.39,150.89 L526.86,150.52 L527.33,150.15 L527.79,149.78 L528.26,149.4 L528.73,149.02 L529.2,148.64 L529.67,148.25 L530.14,147.86 L530.61,147.47 L531.08,147.07 L531.55,146.67 L532.02,146.26 L532.48,145.86 L532.95,145.44 L533.42,145.03 L533.89,144.61 L534.36,144.18 L534.83,143.75 L535.3,143.32 L535.77,142.89 L536.24,142.45 L536.71,142 L537.18,141.55 L537.18,184.16 L536.71,184.06 L536.24,183.97 L535.77,183.87 L535.3,183.77 L534.83,183.67 L534.36,183.57 L533.89,183.46 L533.42,183.36 L532.95,183.25 L532.48,183.14 L532.02,183.03 L531.55,182.92 L531.08,182.81 L530.61,182.69 L530.14,182.58 L529.67,182.46 L529.2,182.34 L528.73,182.22 L528.26,182.09 L527.79,181.97 L527.33,181.84 L526.86,181.71 L526.39,181.58 L525.92,181.45 L525.45,181.31 L524.98,181.18 L524.51,181.04 L524.04,180.9 L523.57,180.76 L523.1,180.61 L522.64,180.47 L522.17,180.32 L521.7,180.17 L521.23,180.01 L520.76,179.86 L520.29,179.7 L519.82,179.54 L519.35,179.38 L518.88,179.21 L518.41,179.04 L517.94,178.87 L517.48,178.7 L517.01,178.53 L516.54,178.35 L516.07,178.17 L515.6,177.99 L515.13,177.8 L514.66,177.62 L514.19,177.43 L513.72,177.23 L513.25,177.04 L512.79,176.84 L512.32,176.64 L511.85,176.43 L511.38,176.22 L510.91,176.01 L510.44,175.8 L509.97,175.58 L509.5,175.36 L509.03,175.14 L508.56,174.91 L508.09,174.68 L507.63,174.45 L507.16,174.22 L506.69,173.98 L506.22,173.73 L505.75,173.49 L505.28,173.24 L504.81,172.98 L504.34,172.72 L503.87,172.46 L503.4,172.2 L502.94,171.93 L502.47,171.65 L502,171.38 L501.53,171.1 L501.06,170.81 L500.59,170.52 L500.12,170.23 L499.65,169.93 L499.18,169.63 L498.71,169.32 L498.25,169.01 L497.78,168.7 L497.31,168.37 L496.84,168.35 L496.37,168.56 L495.9,168.77 L495.43,168.98 L494.96,169.18 L494.49,169.39 L494.02,169.59 L493.55,169.79 L493.09,169.99 L492.62,170.18 L492.15,170.38 L491.68,170.57 L491.21,170.76 L490.74,170.95 L490.27,171.13 L489.8,171.32 L489.33,171.5 L488.86,171.68 L488.4,171.86 L487.93,172.04 L487.46,172.22 L486.99,172.39 L486.52,172.57 L486.05,172.74 L485.58,172.91 L485.11,173.08 L484.64,173.24 L484.17,173.41 L483.71,173.57 L483.24,173.74 L482.77,173.9 L482.3,174.06 L481.83,174.21 L481.36,174.37 L480.89,174.52 L480.42,174.68 L479.95,174.83 L479.48,174.98 L479.01,175.13 L478.55,175.27 L478.08,175.42 L477.61,175.57 L477.14,175.71 L476.67,175.85 L476.2,175.99 L475.73,176.13 L475.26,176.27 L474.79,176.4 L474.32,176.54 L473.86,176.67 L473.39,176.81 L472.92,176.94 L472.45,177.07 L471.98,177.2 L471.51,177.33 L471.04,177.45 L470.57,177.58 L470.1,177.7 L469.63,177.82 L469.16,177.95 L468.7,178.07 L468.23,178.19 L467.76,178.31 L467.29,178.42 L466.82,178.54 L466.35,178.65 L465.88,178.77 L465.41,178.88 L464.94,178.99 L464.47,179.1 L464.01,179.21 L463.54,179.32 L463.07,179.43 L462.6,179.54 L462.13,179.64 L461.66,179.75 L461.19,179.85 L460.72,179.95 L460.25,180.06 L459.78,180.16 L459.32,180.26 L458.85,180.35 L458.38,180.45 L457.91,180.55 L457.44,180.65 L456.97,180.74 L456.5,180.84 L456.03,180.93 L455.56,181.02 L455.09,181.11 L454.62,181.2 L454.16,181.29 L453.69,181.38 L453.22,181.47 L452.75,181.56 L452.28,181.64 L451.81,181.73 L451.34,181.82 L450.87,181.9 L450.4,181.98 L449.93,182.06 L449.47,182.15 L449,182.23 L448.53,182.31 L448.06,182.39 L447.59,182.47 L447.12,182.54 L446.65,182.62 L446.18,182.7 L445.71,182.77 L445.24,182.85 L444.78,182.92 L444.31,183 L443.84,183.07 Z" fill="#e5e5e5"/>
<path d="M443.84,160.37 L444.31,160.45 L444.78,160.53 L445.24,160.61 L445.71,160.69 L446.18,160.77 L446.65,160.85 L447.12,160.92 L447.59,161 L448.06,161.08 L448.53,161.16 L449,161.24 L449.47,161.32 L449.93,161.39 L450.4,161.47 L450.87,161.55 L451.34,161.62 L451.81,161.7 L452.28,161.78 L452.75,161.85 L453.22,161.93 L453.69,162.01 L454.16,162.08 L454.62,162.16 L455.09,162.23 L455.56,162.31 L456.03,162.38 L456.5,162.46 L456.97,162.53 L457.44,162.61 L457.91,162.68 L458.38,162.75 L458.85,162.83 L459.32,162.9 L459.78,162.97 L460.25,163.05 L460.72,163.12 L461.19,163.19 L461.66,163.27 L462.13,163.34 L462.6,163.41 L463.07,163.48 L463.54,163.55 L464.01,163.63 L464.47,163.7 L464.94,163.77 L465.41,163.84 L465.88,163.91 L466.35,163.98 L466.82,164.05 L467.29,164.12 L467.76,164.19 L468.23,164.26 L468.7,164.33 L469.16,164.4 L469.63,164.47 L470.1,164.54 L470.57,164.61 L471.04,164.68 L471.51,164.75 L471.98,164.82 L472.45,164.88 L472.92,164.95 L473.39,165.02 L473.86,165.09 L474.32,165.15 L474.79,165.22 L475.26,165.29 L475.73,165.36 L476.2,165.42 L476.67,165.49 L477.14,165.56 L477.61,165.62 L478.08,165.69 L478.55,165.75 L479.01,165.82 L479.48,165.89 L479.95,165.95 L480.42,166.02 L480.89,166.08 L481.36,166.15 L481.83,166.21 L482.3,166.28 L482.77,166.34 L483.24,166.41 L483.71,166.47 L484.17,166.53 L484.64,166.6 L485.11,166.66 L485.58,166.72 L486.05,166.79 L486.52,166.85 L486.99,166.91 L487.46,166.98 L487.93,167.04 L488.4,167.1 L488.86,167.16 L489.33,167.23 L489.8,167.29 L490.27,167.35 L490.74,167.41 L491.21,167.47 L491.68,167.53 L492.15,167.59 L492.62,167.66 L493.09,167.72 L493.55,167.78 L494.02,167.84 L494.49,167.9 L494.96,167.96 L495.43,168.02 L495.9,168.08 L496.37,168.14 L496.84,168.2 L497.31,168.26 L497.78,168.32 L498.25,168.37 L498.71,168.43 L499.18,168.49 L499.65,168.55 L500.12,168.61 L500.59,168.67 L501.06,168.73 L501.53,168.78 L502,168.84 L502.47,168.9 L502.94,168.96 L503.4,169.01 L503.87,169.07 L504.34,169.13 L504.81,169.19 L505.28,169.24 L505.75,169.3 L506.22,169.36 L506.69,169.41 L507.16,169.47 L507.63,169.52 L508.09,169.58 L508.56,169.64 L509.03,169.69 L509.5,169.75 L509.97,169.8 L510.44,169.86 L510.91,169.91 L511.38,169.97 L511.85,170.02 L512.32,170.08 L512.79,170.13 L513.25,170.18 L513.72,170.24 L514.19,170.29 L514.66,170.35 L515.13,170.4 L515.6,170.45 L516.07,170.51 L516.54,170.56 L517.01,170.61 L517.48,170.67 L517.94,170.72 L518.41,170.77 L518.88,170.82 L519.35,170.88 L519.82,170.93 L520.29,170.98 L520.76,171.03 L521.23,171.09 L521.7,171.14 L522.17,171.19 L522.64,171.24 L523.1,171.29 L523.57,171.34 L524.04,171.39 L524.51,171.45 L524.98,171.5 L525.45,171.55 L525.92,171.6 L526.39,171.65 L526.86,171.7 L527.33,171.75 L527.79,171.8 L528.26,171.85 L528.73,171.9 L529.2,171.95 L529.67,172 L530.14,172.05 L530.61,172.1 L531.08,172.14 L531.55,172.19 L532.02,172.24 L532.48,172.29 L532.95,172.34 L533.42,172.39 L533.89,172.44 L534.36,172.48 L534.83,172.53 L535.3,172.58 L535.77,172.63 L536.24,172.68 L536.71,172.72 L537.18,172.77" fill="none" stroke="#d0506e" stroke-width="1.1"/>
</g>
<line x1="440.3" y1="168.5" x2="540.2" y2="168.5" stroke="#3c3c3c" stroke-width="1"/>
<path d="M440.3,3.8 V193.5 H540.2" fill="none" stroke="#7d7d7d" stroke-width="1.1"/>
<line x1="436.5" y1="190.7" x2="440.3" y2="190.7" stroke="#7d7d7d" stroke-width="1"/>
<line x1="436.5" y1="145.76" x2="440.3" y2="145.76" stroke="#7d7d7d" stroke-width="1"/>
<line x1="436.5" y1="100.82" x2="440.3" y2="100.82" stroke="#7d7d7d" stroke-width="1"/>
<line x1="436.5" y1="55.88" x2="440.3" y2="55.88" stroke="#7d7d7d" stroke-width="1"/>
<line x1="436.5" y1="10.94" x2="440.3" y2="10.94" stroke="#7d7d7d" stroke-width="1"/>
<line x1="446.5" y1="193.5" x2="446.5" y2="197.1" stroke="#7d7d7d" stroke-width="1"/>
<line x1="459.81" y1="193.5" x2="459.81" y2="197.1" stroke="#7d7d7d" stroke-width="1"/>
<line x1="473.13" y1="193.5" x2="473.13" y2="197.1" stroke="#7d7d7d" stroke-width="1"/>
<line x1="486.44" y1="193.5" x2="486.44" y2="197.1" stroke="#7d7d7d" stroke-width="1"/>
<line x1="499.76" y1="193.5" x2="499.76" y2="197.1" stroke="#7d7d7d" stroke-width="1"/>
<line x1="513.08" y1="193.5" x2="513.08" y2="197.1" stroke="#7d7d7d" stroke-width="1"/>
<line x1="526.39" y1="193.5" x2="526.39" y2="197.1" stroke="#7d7d7d" stroke-width="1"/>
<line x1="539.71" y1="193.5" x2="539.71" y2="197.1" stroke="#7d7d7d" stroke-width="1"/>
<clipPath id="ct4"><rect x="578.5" y="3.8" width="101.9" height="189.7"/></clipPath>
<g clip-path="url(#ct4)">
<path d="M582.04,188.21 L582.51,188.16 L582.98,188.11 L583.44,188.06 L583.91,188.01 L584.38,187.96 L584.85,187.9 L585.32,187.85 L585.79,187.79 L586.26,187.74 L586.73,187.68 L587.2,187.62 L587.67,187.56 L588.13,187.5 L588.6,187.43 L589.07,187.37 L589.54,187.31 L590.01,187.24 L590.48,187.17 L590.95,187.1 L591.42,187.03 L591.89,186.96 L592.36,186.89 L592.82,186.81 L593.29,186.74 L593.76,186.66 L594.23,186.58 L594.7,186.5 L595.17,186.42 L595.64,186.33 L596.11,186.25 L596.58,186.16 L597.05,186.07 L597.52,185.98 L597.98,185.89 L598.45,185.79 L598.92,185.7 L599.39,185.6 L599.86,185.5 L600.33,185.4 L600.8,185.3 L601.27,185.19 L601.74,185.08 L602.21,184.97 L602.67,184.86 L603.14,184.75 L603.61,184.63 L604.08,184.51 L604.55,184.39 L605.02,184.27 L605.49,184.14 L605.96,184.01 L606.43,183.88 L606.9,183.75 L607.36,183.61 L607.83,183.47 L608.3,183.33 L608.77,183.19 L609.24,183.04 L609.71,182.89 L610.18,182.74 L610.65,182.58 L611.12,182.42 L611.59,182.26 L612.06,182.1 L612.52,181.93 L612.99,181.76 L613.46,181.58 L613.93,181.4 L614.4,181.22 L614.87,181.04 L615.34,180.85 L615.81,180.65 L616.28,180.46 L616.75,180.26 L617.21,180.05 L617.68,179.84 L618.15,179.63 L618.62,179.42 L619.09,179.2 L619.56,178.97 L620.03,178.74 L620.5,178.51 L620.97,178.27 L621.44,178.03 L621.91,177.78 L622.37,177.52 L622.84,177.27 L623.31,177 L623.78,176.74 L624.25,176.46 L624.72,176.18 L625.19,175.9 L625.66,175.61 L626.13,175.32 L626.6,175.01 L627.06,174.71 L627.53,174.39 L628,174.08 L628.47,173.75 L628.94,173.42 L629.41,173.08 L629.88,172.74 L630.35,172.38 L630.82,172.03 L631.29,171.66 L631.75,171.29 L632.22,170.91 L632.69,170.52 L633.16,170.13 L633.63,169.72 L634.1,169.31 L634.57,168.9 L635.04,168.47 L635.51,167.92 L635.98,167.22 L636.45,166.5 L636.91,165.76 L637.38,164.99 L637.85,164.2 L638.32,163.38 L638.79,162.54 L639.26,161.68 L639.73,160.78 L640.2,159.86 L640.67,158.92 L641.14,157.94 L641.6,156.93 L642.07,155.89 L642.54,154.82 L643.01,153.72 L643.48,152.58 L643.95,151.41 L644.42,150.2 L644.89,148.95 L645.36,147.67 L645.83,146.34 L646.29,144.98 L646.76,143.57 L647.23,142.12 L647.7,140.63 L648.17,139.09 L648.64,137.5 L649.11,135.87 L649.58,134.18 L650.05,132.44 L650.52,130.65 L650.99,128.8 L651.45,126.9 L651.92,124.94 L652.39,122.91 L652.86,120.83 L653.33,118.68 L653.8,116.47 L654.27,114.18 L654.74,111.83 L655.21,109.4 L655.68,106.9 L656.14,104.32 L656.61,101.67 L657.08,98.93 L657.55,96.11 L658.02,93.2 L658.49,90.2 L658.96,87.11 L659.43,83.92 L659.9,80.64 L660.37,77.25 L660.84,73.76 L661.3,70.16 L661.77,66.46 L662.24,62.64 L662.71,58.7 L663.18,54.64 L663.65,50.45 L664.12,46.14 L664.59,41.69 L665.06,37.11 L665.53,32.38 L665.99,27.51 L666.46,22.49 L666.93,17.32 L667.4,11.99 L667.87,6.49 L668.34,0.83 L668.81,-5.01 L669.28,-11.03 L669.75,-17.24 L670.22,-23.64 L670.68,-30.23 L671.15,-37.02 L671.62,-44.03 L672.09,-50 L672.56,-50 L673.03,-50 L673.5,-50 L673.97,-50 L674.44,-50 L674.91,-50 L675.38,-50 L675.38,73.05 L674.91,75.31 L674.44,77.53 L673.97,79.7 L673.5,81.83 L673.03,83.92 L672.56,85.96 L672.09,87.97 L671.62,89.95 L671.15,91.88 L670.68,93.78 L670.22,95.63 L669.75,97.46 L669.28,99.25 L668.81,101 L668.34,102.72 L667.87,104.41 L667.4,106.07 L666.93,107.69 L666.46,109.28 L665.99,110.85 L665.53,112.38 L665.06,113.88 L664.59,115.36 L664.12,116.8 L663.65,118.22 L663.18,119.61 L662.71,120.97 L662.24,122.31 L661.77,123.62 L661.3,124.91 L660.84,126.17 L660.37,127.41 L659.9,128.63 L659.43,129.82 L658.96,130.99 L658.49,132.13 L658.02,133.25 L657.55,134.36 L657.08,135.44 L656.61,136.5 L656.14,137.54 L655.68,138.56 L655.21,139.56 L654.74,140.54 L654.27,141.5 L653.8,142.45 L653.33,143.37 L652.86,144.28 L652.39,145.17 L651.92,146.05 L651.45,146.9 L650.99,147.74 L650.52,148.57 L650.05,149.38 L649.58,150.17 L649.11,150.95 L648.64,151.71 L648.17,152.46 L647.7,153.19 L647.23,153.91 L646.76,154.62 L646.29,155.31 L645.83,155.99 L645.36,156.65 L644.89,157.31 L644.42,157.95 L643.95,158.58 L643.48,159.19 L643.01,159.8 L642.54,160.39 L642.07,160.97 L641.6,161.54 L641.14,162.1 L640.67,162.65 L640.2,163.19 L639.73,163.72 L639.26,164.23 L638.79,164.74 L638.32,165.24 L637.85,165.73 L637.38,166.21 L636.91,166.68 L636.45,167.14 L635.98,167.59 L635.51,168.03 L635.04,168.6 L634.57,169.26 L634.1,169.9 L633.63,170.52 L633.16,171.12 L632.69,171.71 L632.22,172.28 L631.75,172.83 L631.29,173.36 L630.82,173.88 L630.35,174.38 L629.88,174.87 L629.41,175.34 L628.94,175.8 L628.47,176.24 L628,176.67 L627.53,177.09 L627.06,177.5 L626.6,177.89 L626.13,178.27 L625.66,178.64 L625.19,179 L624.72,179.35 L624.25,179.69 L623.78,180.02 L623.31,180.34 L622.84,180.65 L622.37,180.95 L621.91,181.24 L621.44,181.52 L620.97,181.79 L620.5,182.06 L620.03,182.32 L619.56,182.57 L619.09,182.81 L618.62,183.05 L618.15,183.27 L617.68,183.5 L617.21,183.71 L616.75,183.92 L616.28,184.12 L615.81,184.32 L615.34,184.51 L614.87,184.69 L614.4,184.87 L613.93,185.05 L613.46,185.22 L612.99,185.38 L612.52,185.54 L612.06,185.69 L611.59,185.84 L611.12,185.99 L610.65,186.13 L610.18,186.26 L609.71,186.4 L609.24,186.52 L608.77,186.65 L608.3,186.77 L607.83,186.89 L607.36,187 L606.9,187.11 L606.43,187.22 L605.96,187.32 L605.49,187.42 L605.02,187.52 L604.55,187.62 L604.08,187.71 L603.61,187.8 L603.14,187.88 L602.67,187.97 L602.21,188.05 L601.74,188.13 L601.27,188.21 L600.8,188.28 L600.33,188.35 L599.86,188.42 L599.39,188.49 L598.92,188.56 L598.45,188.62 L597.98,188.68 L597.52,188.74 L597.05,188.8 L596.58,188.86 L596.11,188.91 L595.64,188.97 L595.17,189.02 L594.7,189.07 L594.23,189.12 L593.76,189.16 L593.29,189.21 L592.82,189.25 L592.36,189.3 L591.89,189.34 L591.42,189.38 L590.95,189.42 L590.48,189.46 L590.01,189.49 L589.54,189.53 L589.07,189.57 L588.6,189.6 L588.13,189.63 L587.67,189.66 L587.2,189.69 L586.73,189.72 L586.26,189.75 L585.79,189.78 L585.32,189.81 L584.85,189.84 L584.38,189.86 L583.91,189.89 L583.44,189.91 L582.98,189.93 L582.51,189.96 L582.04,189.98 Z" fill="#e5e5e5"/>
<path d="M582.04,189.36 L582.51,189.33 L582.98,189.29 L583.44,189.26 L583.91,189.22 L584.38,189.18 L584.85,189.15 L585.32,189.11 L585.79,189.07 L586.26,189.03 L586.73,188.98 L587.2,188.94 L587.67,188.9 L588.13,188.85 L588.6,188.8 L589.07,188.76 L589.54,188.71 L590.01,188.66 L590.48,188.61 L590.95,188.55 L591.42,188.5 L591.89,188.44 L592.36,188.39 L592.82,188.33 L593.29,188.27 L593.76,188.21 L594.23,188.15 L594.7,188.08 L595.17,188.02 L595.64,187.95 L596.11,187.88 L596.58,187.81 L597.05,187.73 L597.52,187.66 L597.98,187.58 L598.45,187.51 L598.92,187.43 L599.39,187.34 L599.86,187.26 L600.33,187.17 L600.8,187.08 L601.27,186.99 L601.74,186.9 L602.21,186.8 L602.67,186.71 L603.14,186.61 L603.61,186.5 L604.08,186.4 L604.55,186.29 L605.02,186.18 L605.49,186.06 L605.96,185.95 L606.43,185.83 L606.9,185.71 L607.36,185.58 L607.83,185.45 L608.3,185.32 L608.77,185.18 L609.24,185.04 L609.71,184.9 L610.18,184.76 L610.65,184.61 L611.12,184.45 L611.59,184.3 L612.06,184.14 L612.52,183.97 L612.99,183.8 L613.46,183.63 L613.93,183.45 L614.4,183.27 L614.87,183.08 L615.34,182.89 L615.81,182.69 L616.28,182.49 L616.75,182.29 L617.21,182.07 L617.68,181.86 L618.15,181.63 L618.62,181.41 L619.09,181.17 L619.56,180.93 L620.03,180.69 L620.5,180.44 L620.97,180.18 L621.44,179.91 L621.91,179.64 L622.37,179.36 L622.84,179.08 L623.31,178.79 L623.78,178.49 L624.25,178.18 L624.72,177.87 L625.19,177.54 L625.66,177.21 L626.13,176.87 L626.6,176.53 L627.06,176.17 L627.53,175.8 L628,175.43 L628.47,175.05 L628.94,174.65 L629.41,174.25 L629.88,173.83 L630.35,173.41 L630.82,172.98 L631.29,172.53 L631.75,172.07 L632.22,171.6 L632.69,171.12 L633.16,170.63 L633.63,170.13 L634.1,169.61 L634.57,169.08 L635.04,168.54 L635.51,167.98 L635.98,167.41 L636.45,166.82 L636.91,166.22 L637.38,165.61 L637.85,164.97 L638.32,164.33 L638.79,163.66 L639.26,162.98 L639.73,162.29 L640.2,161.57 L640.67,160.84 L641.14,160.09 L641.6,159.32 L642.07,158.53 L642.54,157.72 L643.01,156.89 L643.48,156.04 L643.95,155.17 L644.42,154.28 L644.89,153.36 L645.36,152.42 L645.83,151.46 L646.29,150.47 L646.76,149.46 L647.23,148.43 L647.7,147.36 L648.17,146.27 L648.64,145.16 L649.11,144.01 L649.58,142.84 L650.05,141.63 L650.52,140.4 L650.99,139.14 L651.45,137.84 L651.92,136.51 L652.39,135.15 L652.86,133.75 L653.33,132.32 L653.8,130.85 L654.27,129.34 L654.74,127.8 L655.21,126.22 L655.68,124.6 L656.14,122.94 L656.61,121.23 L657.08,119.49 L657.55,117.7 L658.02,115.86 L658.49,113.98 L658.96,112.05 L659.43,110.07 L659.9,108.04 L660.37,105.96 L660.84,103.83 L661.3,101.65 L661.77,99.41 L662.24,97.12 L662.71,94.76 L663.18,92.35 L663.65,89.88 L664.12,87.34 L664.59,84.74 L665.06,82.08 L665.53,79.35 L665.99,76.55 L666.46,73.68 L666.93,70.73 L667.4,67.72 L667.87,64.62 L668.34,61.45 L668.81,58.2 L669.28,54.87 L669.75,51.46 L670.22,47.96 L670.68,44.37 L671.15,40.69 L671.62,36.91 L672.09,33.05 L672.56,29.08 L673.03,25.02 L673.5,20.85 L673.97,16.58 L674.44,12.2 L674.91,7.72 L675.38,3.12" fill="none" stroke="#d0506e" stroke-width="1.1"/>
</g>
<line x1="578.5" y1="168.5" x2="678.4" y2="168.5" stroke="#3c3c3c" stroke-width="1"/>
<path d="M578.5,3.8 V193.5 H678.4" fill="none" stroke="#7d7d7d" stroke-width="1.1"/>
<line x1="574.7" y1="190.7" x2="578.5" y2="190.7" stroke="#7d7d7d" stroke-width="1"/>
<line x1="574.7" y1="145.76" x2="578.5" y2="145.76" stroke="#7d7d7d" stroke-width="1"/>
<line x1="574.7" y1="100.82" x2="578.5" y2="100.82" stroke="#7d7d7d" stroke-width="1"/>
<line x1="574.7" y1="55.88" x2="578.5" y2="55.88" stroke="#7d7d7d" stroke-width="1"/>
<line x1="574.7" y1="10.94" x2="578.5" y2="10.94" stroke="#7d7d7d" stroke-width="1"/>
<line x1="584.7" y1="193.5" x2="584.7" y2="197.1" stroke="#7d7d7d" stroke-width="1"/>
<line x1="598.02" y1="193.5" x2="598.02" y2="197.1" stroke="#7d7d7d" stroke-width="1"/>
<line x1="611.33" y1="193.5" x2="611.33" y2="197.1" stroke="#7d7d7d" stroke-width="1"/>
<line x1="624.65" y1="193.5" x2="624.65" y2="197.1" stroke="#7d7d7d" stroke-width="1"/>
<line x1="637.96" y1="193.5" x2="637.96" y2="197.1" stroke="#7d7d7d" stroke-width="1"/>
<line x1="651.28" y1="193.5" x2="651.28" y2="197.1" stroke="#7d7d7d" stroke-width="1"/>
<line x1="664.59" y1="193.5" x2="664.59" y2="197.1" stroke="#7d7d7d" stroke-width="1"/>
<line x1="677.91" y1="193.5" x2="677.91" y2="197.1" stroke="#7d7d7d" stroke-width="1"/>
<circle cx="608.67" cy="185.21" r="2.1" fill="#0000ff"/>
<circle cx="661.93" cy="98.66" r="2.1" fill="#0000ff"/>
<clipPath id="cb0"><rect x="30.9" y="249.5" width="134.1" height="190"/></clipPath>
<g clip-path="url(#cb0)">
<path d="M36,405.72 L37.03,407.3 L38.05,407.85 L39.08,407.55 L40.11,406.57 L41.13,405.08 L42.16,403.25 L43.19,401.26 L44.22,399.27 L45.24,397.33 L46.27,395.48 L47.3,393.75 L48.32,392.15 L49.35,390.72 L50.38,389.47 L51.4,388.4 L52.43,387.49 L53.46,386.73 L54.48,386.09 L55.51,385.58 L56.54,385.17 L57.56,384.85 L58.59,384.61 L59.62,384.42 L60.65,384.28 L61.67,384.17 L62.7,384.07 L63.73,383.98 L64.75,383.87 L65.78,383.74 L66.81,383.56 L67.83,383.33 L68.86,383.02 L69.89,382.63 L70.91,382.14 L71.94,381.54 L72.97,380.82 L73.99,379.96 L75.02,378.96 L76.05,377.81 L77.08,376.48 L78.1,374.97 L79.13,373.27 L80.16,371.37 L81.18,369.27 L82.21,367 L83.24,364.58 L84.26,362.01 L85.29,359.32 L86.32,356.54 L87.34,353.67 L88.37,350.85 L89.4,348.21 L90.43,345.86 L91.45,343.74 L92.48,341.73 L93.51,339.69 L94.53,337.62 L95.56,335.59 L96.59,333.66 L97.61,331.89 L98.64,330.35 L99.67,329.1 L100.69,328.19 L101.72,327.64 L102.75,327.39 L103.77,327.42 L104.8,327.68 L105.83,328.15 L106.86,328.78 L107.88,329.53 L108.91,330.38 L109.94,331.28 L110.96,332.19 L111.99,333.08 L113.02,333.91 L114.04,334.64 L115.07,335.24 L116.1,335.67 L117.12,335.89 L118.15,335.87 L119.18,335.57 L120.21,334.99 L121.23,334.17 L122.26,333.14 L123.29,331.92 L124.31,330.54 L125.34,329.03 L126.37,327.42 L127.39,325.75 L128.42,324.03 L129.45,322.31 L130.47,320.6 L131.5,318.95 L132.53,317.37 L133.55,315.89 L134.58,314.56 L135.61,313.4 L136.64,312.46 L137.66,311.8 L138.69,311.48 L139.72,311.55 L140.74,312.07 L141.77,313.09 L142.8,314.66 L143.82,316.77 L144.85,319.36 L145.88,322.37 L146.9,325.77 L147.93,329.48 L148.96,333.47 L149.98,337.68 L151.01,342.06 L152.04,346.54 L153.07,351.06 L154.09,355.56 L155.12,359.72 L156.15,361.74 L157.17,360.98 L158.2,359.31 L158.2,413.23 L157.17,413.55 L156.15,413.89 L155.12,414.22 L154.09,414.56 L153.07,414.89 L152.04,415.21 L151.01,415.51 L149.98,415.79 L148.96,416.04 L147.93,416.26 L146.9,416.44 L145.88,416.57 L144.85,416.66 L143.82,416.69 L142.8,416.65 L141.77,416.56 L140.74,416.39 L139.72,416.14 L138.69,415.81 L137.66,415.4 L136.64,414.9 L135.61,414.33 L134.58,413.7 L133.55,413.02 L132.53,412.31 L131.5,411.56 L130.47,410.8 L129.45,410.04 L128.42,409.28 L127.39,408.54 L126.37,407.83 L125.34,407.15 L124.31,406.53 L123.29,405.97 L122.26,405.48 L121.23,405.06 L120.21,404.72 L119.18,404.46 L118.15,404.28 L117.12,404.18 L116.1,404.15 L115.07,404.21 L114.04,404.34 L113.02,404.56 L111.99,404.86 L110.96,405.23 L109.94,405.67 L108.91,406.17 L107.88,406.72 L106.86,407.31 L105.83,407.94 L104.8,408.58 L103.77,409.25 L102.75,409.92 L101.72,410.6 L100.69,411.26 L99.67,411.91 L98.64,412.54 L97.61,413.15 L96.59,413.73 L95.56,414.3 L94.53,414.84 L93.51,415.37 L92.48,415.88 L91.45,416.38 L90.43,416.86 L89.4,417.33 L88.37,417.78 L87.34,418.23 L86.32,418.66 L85.29,419.08 L84.26,419.49 L83.24,419.89 L82.21,420.29 L81.18,420.68 L80.16,421.06 L79.13,421.44 L78.1,421.81 L77.08,422.18 L76.05,422.55 L75.02,422.92 L73.99,423.28 L72.97,423.65 L71.94,424.01 L70.91,424.37 L69.89,424.73 L68.86,425.09 L67.83,425.43 L66.81,425.77 L65.78,426.11 L64.75,426.43 L63.73,426.75 L62.7,427.05 L61.67,427.35 L60.65,427.63 L59.62,427.9 L58.59,428.15 L57.56,428.39 L56.54,428.62 L55.51,428.83 L54.48,429.02 L53.46,429.19 L52.43,429.34 L51.4,429.47 L50.38,429.58 L49.35,429.66 L48.32,429.72 L47.3,429.76 L46.27,429.78 L45.24,429.76 L44.22,429.72 L43.19,429.65 L42.16,429.56 L41.13,429.43 L40.11,429.27 L39.08,429.08 L38.05,428.85 L37.03,428.6 L36,428.3 Z" fill="#e5e5e5"/>
<path d="M36,421.13 L37.03,421.11 L38.05,421.09 L39.08,421.05 L40.11,421 L41.13,420.93 L42.16,420.85 L43.19,420.75 L44.22,420.63 L45.24,420.5 L46.27,420.35 L47.3,420.18 L48.32,420 L49.35,419.79 L50.38,419.56 L51.4,419.31 L52.43,419.04 L53.46,418.74 L54.48,418.42 L55.51,418.08 L56.54,417.71 L57.56,417.32 L58.59,416.9 L59.62,416.45 L60.65,415.98 L61.67,415.47 L62.7,414.94 L63.73,414.38 L64.75,413.78 L65.78,413.16 L66.81,412.5 L67.83,411.82 L68.86,411.1 L69.89,410.36 L70.91,409.59 L71.94,408.8 L72.97,407.99 L73.99,407.16 L75.02,406.31 L76.05,405.45 L77.08,404.58 L78.1,403.69 L79.13,402.79 L80.16,401.89 L81.18,400.98 L82.21,400.06 L83.24,399.15 L84.26,398.23 L85.29,397.31 L86.32,396.4 L87.34,395.5 L88.37,394.6 L89.4,393.71 L90.43,392.83 L91.45,391.97 L92.48,391.12 L93.51,390.28 L94.53,389.47 L95.56,388.68 L96.59,387.9 L97.61,387.16 L98.64,386.44 L99.67,385.75 L100.69,385.08 L101.72,384.45 L102.75,383.85 L103.77,383.27 L104.8,382.73 L105.83,382.23 L106.86,381.75 L107.88,381.31 L108.91,380.91 L109.94,380.54 L110.96,380.2 L111.99,379.9 L113.02,379.64 L114.04,379.42 L115.07,379.24 L116.1,379.09 L117.12,378.99 L118.15,378.92 L119.18,378.9 L120.21,378.92 L121.23,378.99 L122.26,379.09 L123.29,379.24 L124.31,379.44 L125.34,379.68 L126.37,379.97 L127.39,380.3 L128.42,380.68 L129.45,381.09 L130.47,381.54 L131.5,382.01 L132.53,382.52 L133.55,383.05 L134.58,383.61 L135.61,384.18 L136.64,384.77 L137.66,385.37 L138.69,385.98 L139.72,386.6 L140.74,387.23 L141.77,387.85 L142.8,388.47 L143.82,389.08 L144.85,389.68 L145.88,390.28 L146.9,390.85 L147.93,391.41 L148.96,391.94 L149.98,392.46 L151.01,392.94 L152.04,393.39 L153.07,393.81 L154.09,394.19 L155.12,394.52 L156.15,394.82 L157.17,395.07 L158.2,395.27" fill="none" stroke="#d0506e" stroke-width="1.1"/>
</g>
<line x1="30.9" y1="391.5" x2="163" y2="391.5" stroke="#3c3c3c" stroke-width="1"/>
<path d="M30.9,249.5 V439.5 H163" fill="none" stroke="#7d7d7d" stroke-width="1.1"/>
<line x1="27.9" y1="436.5" x2="30.9" y2="436.5" stroke="#7d7d7d" stroke-width="1"/>
<line x1="27.9" y1="391.45" x2="30.9" y2="391.45" stroke="#7d7d7d" stroke-width="1"/>
<line x1="27.9" y1="346.4" x2="30.9" y2="346.4" stroke="#7d7d7d" stroke-width="1"/>
<line x1="27.9" y1="301.35" x2="30.9" y2="301.35" stroke="#7d7d7d" stroke-width="1"/>
<line x1="27.9" y1="256.3" x2="30.9" y2="256.3" stroke="#7d7d7d" stroke-width="1"/>
<line x1="35.7" y1="439.5" x2="35.7" y2="443.1" stroke="#7d7d7d" stroke-width="1"/>
<line x1="66.3" y1="439.5" x2="66.3" y2="443.1" stroke="#7d7d7d" stroke-width="1"/>
<line x1="96.9" y1="439.5" x2="96.9" y2="443.1" stroke="#7d7d7d" stroke-width="1"/>
<line x1="127.5" y1="439.5" x2="127.5" y2="443.1" stroke="#7d7d7d" stroke-width="1"/>
<line x1="158.1" y1="439.5" x2="158.1" y2="443.1" stroke="#7d7d7d" stroke-width="1"/>
<clipPath id="cb1"><rect x="200.9" y="249.5" width="134.1" height="190"/></clipPath>
<g clip-path="url(#cb1)">
<path d="M205.4,200 L235,200 L235.6,248.99 L236.38,256.72 L237.16,264.35 L237.93,271.74 L238.71,278.75 L239.49,285.22 L240.27,291.02 L241.05,296.09 L241.83,300.43 L242.6,304.09 L243.38,307.19 L244.16,309.87 L244.94,312.28 L245.72,314.56 L246.49,316.81 L247.27,319 L248.05,321.12 L248.83,323.16 L249.61,325.1 L250.38,326.92 L251.16,328.61 L251.94,330.19 L252.72,331.66 L253.5,333.03 L254.28,334.32 L255.05,335.51 L255.83,336.63 L256.61,337.68 L257.39,338.67 L258.17,339.61 L258.94,340.49 L259.72,341.34 L260.5,342.15 L261.28,342.94 L262.06,343.71 L262.84,344.48 L263.61,345.24 L264.39,346 L265.17,346.77 L265.95,347.57 L266.73,348.39 L267.5,349.25 L268.28,350.15 L269.06,351.1 L269.84,352.1 L270.62,353.17 L271.39,354.31 L272.17,355.52 L272.95,356.78 L273.73,358.08 L274.51,359.42 L275.29,360.78 L276.06,362.14 L276.84,363.5 L277.62,364.85 L278.4,366.17 L279.18,367.45 L279.95,368.68 L280.73,369.85 L281.51,370.95 L282.29,371.95 L283.07,372.87 L283.85,373.67 L284.62,374.35 L285.4,374.91 L286.18,375.33 L286.96,375.62 L287.74,375.77 L288.51,375.78 L289.29,375.65 L290.07,375.37 L290.85,374.94 L291.63,374.36 L292.41,373.62 L293.18,372.73 L293.96,371.67 L294.74,370.45 L295.52,369.07 L296.3,367.51 L297.07,365.78 L297.85,363.88 L298.63,361.84 L299.41,359.68 L300.19,357.45 L300.96,355.18 L301.74,352.89 L302.52,350.63 L303.3,348.43 L304.08,346.31 L304.86,344.31 L305.63,342.48 L306.41,340.82 L307.19,339.34 L307.97,338.04 L308.75,336.91 L309.52,335.93 L310.3,335.11 L311.08,334.44 L311.86,333.93 L312.64,333.58 L313.42,333.39 L314.19,333.37 L314.97,333.51 L315.75,333.82 L316.53,334.31 L317.31,334.98 L318.08,335.82 L318.86,336.85 L319.64,338.07 L320.42,339.47 L321.2,341.07 L321.97,342.86 L322.75,344.85 L323.53,346.96 L324.31,348.95 L325.09,350.54 L325.87,351.46 L326.64,351.44 L327.42,350.21 L328.2,347.49 L328.2,409.02 L327.17,409.54 L326.14,410.18 L325.1,410.92 L324.07,411.74 L323.04,412.61 L322.01,413.51 L320.98,414.42 L319.94,415.3 L318.91,416.14 L317.88,416.92 L316.85,417.6 L315.82,418.19 L314.78,418.68 L313.75,419.09 L312.72,419.41 L311.69,419.66 L310.66,419.84 L309.63,419.96 L308.59,420.01 L307.56,420.02 L306.53,419.98 L305.5,419.89 L304.47,419.78 L303.43,419.63 L302.4,419.46 L301.37,419.28 L300.34,419.08 L299.31,418.88 L298.27,418.68 L297.24,418.49 L296.21,418.3 L295.18,418.14 L294.15,418 L293.11,417.89 L292.08,417.8 L291.05,417.74 L290.02,417.69 L288.99,417.67 L287.95,417.66 L286.92,417.66 L285.89,417.68 L284.86,417.7 L283.83,417.73 L282.79,417.76 L281.76,417.79 L280.73,417.82 L279.7,417.85 L278.67,417.87 L277.64,417.88 L276.6,417.88 L275.57,417.87 L274.54,417.84 L273.51,417.79 L272.48,417.72 L271.44,417.63 L270.41,417.51 L269.38,417.37 L268.35,417.19 L267.32,416.98 L266.28,416.73 L265.25,416.44 L264.22,416.11 L263.19,415.74 L262.16,415.33 L261.12,414.86 L260.09,414.35 L259.06,413.78 L258.03,413.16 L257,412.48 L255.96,411.74 L254.93,410.93 L253.9,410.06 L252.87,409.13 L251.84,408.12 L250.81,407.04 L249.77,405.91 L248.74,404.77 L247.71,403.66 L246.68,402.6 L245.65,401.64 L244.61,400.81 L243.58,400.11 L242.55,399.54 L241.52,399.08 L240.49,398.72 L239.45,398.45 L238.42,398.25 L237.39,398.12 L236.36,398.04 L235.33,398 L234.29,397.99 L233.26,397.99 L232.23,397.98 L231.2,397.97 L230.17,397.92 L229.13,397.83 L228.1,397.68 L227.07,397.46 L226.04,397.15 L225.01,396.74 L223.97,396.21 L222.94,395.55 L221.91,394.75 L220.88,393.79 L219.85,392.66 L218.82,391.33 L217.78,389.81 L216.75,388.07 L215.72,386.09 L214.69,383.87 L213.66,381.38 L212.62,378.62 L211.59,375.55 L210.56,372.25 L209.53,369.24 L208.5,367.26 L207.46,367.05 L206.43,368.99 L205.4,372.65 Z" fill="#e5e5e5"/>
<path d="M205.4,308.67 L206.43,308.19 L207.46,307.99 L208.5,308.05 L209.53,308.35 L210.56,308.88 L211.59,309.63 L212.62,310.58 L213.66,311.71 L214.69,313.01 L215.72,314.47 L216.75,316.06 L217.78,317.77 L218.82,319.59 L219.85,321.5 L220.88,323.49 L221.91,325.54 L222.94,327.63 L223.97,329.76 L225.01,331.9 L226.04,334.07 L227.07,336.24 L228.1,338.43 L229.13,340.62 L230.17,342.81 L231.2,344.99 L232.23,347.17 L233.26,349.34 L234.29,351.49 L235.33,353.62 L236.36,355.72 L237.39,357.79 L238.42,359.83 L239.45,361.84 L240.49,363.8 L241.52,365.71 L242.55,367.57 L243.58,369.38 L244.61,371.13 L245.65,372.82 L246.68,374.45 L247.71,376.02 L248.74,377.54 L249.77,379.01 L250.81,380.42 L251.84,381.78 L252.87,383.08 L253.9,384.33 L254.93,385.53 L255.96,386.68 L257,387.78 L258.03,388.83 L259.06,389.84 L260.09,390.79 L261.12,391.7 L262.16,392.56 L263.19,393.38 L264.22,394.16 L265.25,394.89 L266.28,395.57 L267.32,396.22 L268.35,396.82 L269.38,397.39 L270.41,397.91 L271.44,398.39 L272.48,398.84 L273.51,399.25 L274.54,399.62 L275.57,399.96 L276.6,400.26 L277.64,400.53 L278.67,400.76 L279.7,400.97 L280.73,401.14 L281.76,401.27 L282.79,401.38 L283.83,401.46 L284.86,401.51 L285.89,401.53 L286.92,401.53 L287.95,401.49 L288.99,401.44 L290.02,401.35 L291.05,401.24 L292.08,401.11 L293.11,400.96 L294.15,400.79 L295.18,400.59 L296.21,400.37 L297.24,400.14 L298.27,399.88 L299.31,399.61 L300.34,399.32 L301.37,399.01 L302.4,398.69 L303.43,398.35 L304.47,398 L305.5,397.64 L306.53,397.26 L307.56,396.87 L308.59,396.47 L309.63,396.06 L310.66,395.64 L311.69,395.21 L312.72,394.77 L313.75,394.33 L314.78,393.88 L315.82,393.42 L316.85,392.96 L317.88,392.5 L318.91,392.03 L319.94,391.56 L320.98,391.09 L322.01,390.61 L323.04,390.14 L324.07,389.67 L325.1,389.2 L326.14,388.73 L327.17,388.26 L328.2,387.8" fill="none" stroke="#d0506e" stroke-width="1.1"/>
</g>
<line x1="200.9" y1="391.5" x2="333" y2="391.5" stroke="#3c3c3c" stroke-width="1"/>
<path d="M200.9,249.5 V439.5 H333" fill="none" stroke="#7d7d7d" stroke-width="1.1"/>
<line x1="197.9" y1="436.5" x2="200.9" y2="436.5" stroke="#7d7d7d" stroke-width="1"/>
<line x1="197.9" y1="391.45" x2="200.9" y2="391.45" stroke="#7d7d7d" stroke-width="1"/>
<line x1="197.9" y1="346.4" x2="200.9" y2="346.4" stroke="#7d7d7d" stroke-width="1"/>
<line x1="197.9" y1="301.35" x2="200.9" y2="301.35" stroke="#7d7d7d" stroke-width="1"/>
<line x1="197.9" y1="256.3" x2="200.9" y2="256.3" stroke="#7d7d7d" stroke-width="1"/>
<line x1="205.7" y1="439.5" x2="205.7" y2="443.1" stroke="#7d7d7d" stroke-width="1"/>
<line x1="236.3" y1="439.5" x2="236.3" y2="443.1" stroke="#7d7d7d" stroke-width="1"/>
<line x1="266.9" y1="439.5" x2="266.9" y2="443.1" stroke="#7d7d7d" stroke-width="1"/>
<line x1="297.5" y1="439.5" x2="297.5" y2="443.1" stroke="#7d7d7d" stroke-width="1"/>
<line x1="328.1" y1="439.5" x2="328.1" y2="443.1" stroke="#7d7d7d" stroke-width="1"/>
<clipPath id="cb2"><rect x="370.65" y="249.5" width="133.9" height="190"/></clipPath>
<g clip-path="url(#cb2)">
<path d="M375.79,374.61 L376.82,374.9 L377.85,375.18 L378.87,375.46 L379.9,375.75 L380.93,376.03 L381.95,376.3 L382.98,376.58 L384.01,376.86 L385.03,377.13 L386.06,377.41 L387.09,377.68 L388.11,377.95 L389.14,378.22 L390.17,378.49 L391.19,378.76 L392.22,379.03 L393.24,379.29 L394.27,379.56 L395.3,379.82 L396.32,380.08 L397.35,380.34 L398.38,380.6 L399.4,380.86 L400.43,381.12 L401.46,381.37 L402.48,381.63 L403.51,381.88 L404.54,382.13 L405.56,382.38 L406.59,382.63 L407.62,382.88 L408.64,383.13 L409.67,383.37 L410.69,383.62 L411.72,383.86 L412.75,384.11 L413.77,384.35 L414.8,384.59 L415.83,384.83 L416.85,385.07 L417.88,385.31 L418.91,385.54 L419.93,385.78 L420.96,386.01 L421.99,386.24 L423.01,386.48 L424.04,386.71 L425.07,386.94 L426.09,387.17 L427.12,387.39 L428.14,387.62 L429.17,387.85 L430.2,388.07 L431.22,388.29 L432.25,388.52 L433.28,388.74 L434.3,388.96 L435.33,389.18 L436.36,389.4 L437.38,389.61 L438.41,389.83 L439.44,390.05 L440.46,390.26 L441.49,390.47 L442.52,390.69 L443.54,390.9 L444.57,391.11 L445.59,391.32 L446.62,390.78 L447.65,388.89 L448.67,386.92 L449.7,384.88 L450.73,382.74 L451.75,380.52 L452.78,378.21 L453.81,375.8 L454.83,373.3 L455.86,370.69 L456.89,367.97 L457.91,365.14 L458.94,362.19 L459.97,359.12 L460.99,355.92 L462.02,352.6 L463.04,349.13 L464.07,345.52 L465.1,341.76 L466.12,337.85 L467.15,333.78 L468.18,329.53 L469.2,325.12 L470.23,320.52 L471.26,315.73 L472.28,310.74 L473.31,305.54 L474.34,300.13 L475.36,294.5 L476.39,288.64 L477.41,282.53 L478.44,276.17 L479.47,269.55 L480.49,262.65 L481.52,255.47 L482.55,247.99 L483.57,240.21 L484.6,232.1 L485.63,223.66 L486.65,214.87 L487.68,205.71 L488.71,196.18 L489.73,186.26 L490.76,175.92 L491.79,165.16 L492.81,153.95 L493.84,142.28 L494.86,130.13 L495.89,117.47 L496.92,104.3 L497.94,100 L497.94,400.82 L496.92,400.65 L495.89,400.48 L494.86,400.32 L493.84,400.15 L492.81,399.98 L491.79,399.81 L490.76,399.64 L489.73,399.47 L488.71,399.3 L487.68,399.13 L486.65,398.95 L485.63,398.78 L484.6,398.6 L483.57,398.43 L482.55,398.25 L481.52,398.07 L480.49,397.89 L479.47,397.72 L478.44,397.54 L477.41,397.36 L476.39,397.17 L475.36,396.99 L474.34,396.81 L473.31,396.62 L472.28,396.44 L471.26,396.25 L470.23,396.07 L469.2,395.88 L468.18,395.69 L467.15,395.5 L466.12,395.31 L465.1,395.12 L464.07,394.93 L463.04,394.74 L462.02,394.54 L460.99,394.35 L459.97,394.15 L458.94,393.96 L457.91,393.76 L456.89,393.56 L455.86,393.36 L454.83,393.16 L453.81,392.96 L452.78,392.76 L451.75,392.55 L450.73,392.35 L449.7,392.15 L448.67,391.94 L447.65,391.73 L446.62,391.53 L445.59,392.59 L444.57,394.33 L443.54,396.01 L442.52,397.61 L441.49,399.15 L440.46,400.64 L439.44,402.06 L438.41,403.42 L437.38,404.74 L436.36,406 L435.33,407.21 L434.3,408.37 L433.28,409.48 L432.25,410.56 L431.22,411.58 L430.2,412.57 L429.17,413.52 L428.14,414.43 L427.12,415.31 L426.09,416.15 L425.07,416.96 L424.04,417.73 L423.01,418.48 L421.99,419.19 L420.96,419.88 L419.93,420.54 L418.91,421.17 L417.88,421.78 L416.85,422.36 L415.83,422.92 L414.8,423.46 L413.77,423.98 L412.75,424.48 L411.72,424.95 L410.69,425.41 L409.67,425.85 L408.64,426.27 L407.62,426.68 L406.59,427.07 L405.56,427.44 L404.54,427.8 L403.51,428.15 L402.48,428.48 L401.46,428.8 L400.43,429.1 L399.4,429.39 L398.38,429.68 L397.35,429.95 L396.32,430.21 L395.3,430.46 L394.27,430.7 L393.24,430.93 L392.22,431.15 L391.19,431.36 L390.17,431.56 L389.14,431.76 L388.11,431.95 L387.09,432.13 L386.06,432.3 L385.03,432.47 L384.01,432.63 L382.98,432.78 L381.95,432.93 L380.93,433.07 L379.9,433.21 L378.87,433.34 L377.85,433.46 L376.82,433.58 L375.79,433.7 Z" fill="#e5e5e5"/>
<path d="M375.79,423.33 L376.82,423.1 L377.85,422.85 L378.87,422.61 L379.9,422.36 L380.93,422.1 L381.95,421.84 L382.98,421.57 L384.01,421.3 L385.03,421.03 L386.06,420.75 L387.09,420.46 L388.11,420.17 L389.14,419.88 L390.17,419.58 L391.19,419.27 L392.22,418.96 L393.24,418.64 L394.27,418.32 L395.3,417.99 L396.32,417.66 L397.35,417.32 L398.38,416.97 L399.4,416.62 L400.43,416.26 L401.46,415.89 L402.48,415.52 L403.51,415.14 L404.54,414.75 L405.56,414.36 L406.59,413.96 L407.62,413.55 L408.64,413.14 L409.67,412.71 L410.69,412.28 L411.72,411.85 L412.75,411.4 L413.77,410.95 L414.8,410.48 L415.83,410.01 L416.85,409.53 L417.88,409.05 L418.91,408.55 L419.93,408.04 L420.96,407.53 L421.99,407.01 L423.01,406.47 L424.04,405.93 L425.07,405.38 L426.09,404.81 L427.12,404.24 L428.14,403.66 L429.17,403.06 L430.2,402.46 L431.22,401.84 L432.25,401.22 L433.28,400.58 L434.3,399.93 L435.33,399.27 L436.36,398.59 L437.38,397.91 L438.41,397.21 L439.44,396.5 L440.46,395.78 L441.49,395.04 L442.52,394.29 L443.54,393.53 L444.57,392.75 L445.59,391.96 L446.62,391.15 L447.65,390.33 L448.67,389.5 L449.7,388.65 L450.73,387.78 L451.75,386.9 L452.78,386.01 L453.81,385.09 L454.83,384.16 L455.86,383.22 L456.89,382.25 L457.91,381.27 L458.94,380.27 L459.97,379.26 L460.99,378.22 L462.02,377.17 L463.04,376.09 L464.07,375 L465.1,373.89 L466.12,372.76 L467.15,371.6 L468.18,370.43 L469.2,369.24 L470.23,368.02 L471.26,366.78 L472.28,365.52 L473.31,364.24 L474.34,362.93 L475.36,361.6 L476.39,360.24 L477.41,358.87 L478.44,357.46 L479.47,356.03 L480.49,354.58 L481.52,353.1 L482.55,351.59 L483.57,350.05 L484.6,348.49 L485.63,346.9 L486.65,345.28 L487.68,343.63 L488.71,341.95 L489.73,340.24 L490.76,338.5 L491.79,336.72 L492.81,334.92 L493.84,333.08 L494.86,331.21 L495.89,329.31 L496.92,327.37 L497.94,325.4" fill="none" stroke="#d0506e" stroke-width="1.1"/>
</g>
<line x1="370.65" y1="391.5" x2="502.55" y2="391.5" stroke="#3c3c3c" stroke-width="1"/>
<path d="M370.65,249.5 V439.5 H502.55" fill="none" stroke="#7d7d7d" stroke-width="1.1"/>
<line x1="367.65" y1="436.5" x2="370.65" y2="436.5" stroke="#7d7d7d" stroke-width="1"/>
<line x1="367.65" y1="391.45" x2="370.65" y2="391.45" stroke="#7d7d7d" stroke-width="1"/>
<line x1="367.65" y1="346.4" x2="370.65" y2="346.4" stroke="#7d7d7d" stroke-width="1"/>
<line x1="367.65" y1="301.35" x2="370.65" y2="301.35" stroke="#7d7d7d" stroke-width="1"/>
<line x1="367.65" y1="256.3" x2="370.65" y2="256.3" stroke="#7d7d7d" stroke-width="1"/>
<line x1="379.3" y1="439.5" x2="379.3" y2="443.1" stroke="#7d7d7d" stroke-width="1"/>
<line x1="396.82" y1="439.5" x2="396.82" y2="443.1" stroke="#7d7d7d" stroke-width="1"/>
<line x1="414.35" y1="439.5" x2="414.35" y2="443.1" stroke="#7d7d7d" stroke-width="1"/>
<line x1="431.87" y1="439.5" x2="431.87" y2="443.1" stroke="#7d7d7d" stroke-width="1"/>
<line x1="449.4" y1="439.5" x2="449.4" y2="443.1" stroke="#7d7d7d" stroke-width="1"/>
<line x1="466.92" y1="439.5" x2="466.92" y2="443.1" stroke="#7d7d7d" stroke-width="1"/>
<line x1="484.45" y1="439.5" x2="484.45" y2="443.1" stroke="#7d7d7d" stroke-width="1"/>
<line x1="501.97" y1="439.5" x2="501.97" y2="443.1" stroke="#7d7d7d" stroke-width="1"/>
<clipPath id="cb3"><rect x="540.8" y="249.5" width="133.9" height="190"/></clipPath>
<g clip-path="url(#cb3)">
<path d="M545.94,304.84 L546.97,306.86 L548,308.84 L549.02,310.8 L550.05,312.72 L551.08,314.62 L552.1,316.49 L553.13,318.32 L554.16,320.13 L555.18,321.92 L556.21,323.67 L557.24,325.4 L558.26,327.1 L559.29,328.78 L560.32,330.42 L561.34,332.05 L562.37,333.65 L563.39,335.22 L564.42,336.78 L565.45,338.3 L566.47,339.81 L567.5,341.29 L568.53,342.75 L569.55,344.18 L570.58,345.6 L571.61,346.99 L572.63,348.36 L573.66,349.71 L574.69,351.04 L575.71,352.35 L576.74,353.64 L577.77,354.9 L578.79,356.15 L579.82,357.38 L580.84,358.6 L581.87,359.79 L582.9,360.96 L583.92,362.12 L584.95,363.26 L585.98,364.38 L587,365.49 L588.03,366.57 L589.06,367.64 L590.08,368.7 L591.11,369.74 L592.14,370.76 L593.16,371.77 L594.19,372.76 L595.22,373.73 L596.24,374.7 L597.27,375.64 L598.29,376.57 L599.32,377.49 L600.35,378.4 L601.37,379.29 L602.4,380.16 L603.43,381.02 L604.45,381.87 L605.48,382.71 L606.51,383.53 L607.53,384.35 L608.56,385.14 L609.59,385.93 L610.61,386.71 L611.64,387.47 L612.67,388.22 L613.69,388.96 L614.72,389.69 L615.74,390.4 L616.77,391.11 L617.8,390.96 L618.82,389.98 L619.85,388.99 L620.88,387.97 L621.9,386.93 L622.93,385.87 L623.96,384.79 L624.98,383.68 L626.01,382.55 L627.04,381.4 L628.06,380.22 L629.09,379.01 L630.12,377.78 L631.14,376.53 L632.17,375.24 L633.19,373.93 L634.22,372.6 L635.25,371.23 L636.27,369.83 L637.3,368.4 L638.33,366.95 L639.35,365.46 L640.38,363.94 L641.41,362.39 L642.43,360.8 L643.46,359.18 L644.49,357.53 L645.51,355.84 L646.54,354.11 L647.56,352.35 L648.59,350.54 L649.62,348.71 L650.64,346.83 L651.67,344.91 L652.7,342.95 L653.72,340.95 L654.75,338.9 L655.78,336.81 L656.8,334.68 L657.83,332.5 L658.86,330.27 L659.88,328 L660.91,325.68 L661.94,323.31 L662.96,320.89 L663.99,318.41 L665.01,315.89 L666.04,313.3 L667.07,310.67 L668.09,307.98 L668.09,416.41 L667.07,416.08 L666.04,415.75 L665.01,415.4 L663.99,415.06 L662.96,414.7 L661.94,414.35 L660.91,413.98 L659.88,413.61 L658.86,413.24 L657.83,412.85 L656.8,412.46 L655.78,412.07 L654.75,411.67 L653.72,411.26 L652.7,410.84 L651.67,410.42 L650.64,409.99 L649.62,409.56 L648.59,409.11 L647.56,408.66 L646.54,408.21 L645.51,407.74 L644.49,407.27 L643.46,406.79 L642.43,406.3 L641.41,405.8 L640.38,405.3 L639.35,404.78 L638.33,404.26 L637.3,403.73 L636.27,403.19 L635.25,402.64 L634.22,402.09 L633.19,401.52 L632.17,400.95 L631.14,400.36 L630.12,399.77 L629.09,399.16 L628.06,398.55 L627.04,397.92 L626.01,397.29 L624.98,396.65 L623.96,395.99 L622.93,395.32 L621.9,394.65 L620.88,393.96 L619.85,393.26 L618.82,392.55 L617.8,391.82 L616.77,391.89 L615.74,392.79 L614.72,393.67 L613.69,394.53 L612.67,395.37 L611.64,396.2 L610.61,397.01 L609.59,397.8 L608.56,398.58 L607.53,399.34 L606.51,400.09 L605.48,400.82 L604.45,401.54 L603.43,402.24 L602.4,402.93 L601.37,403.6 L600.35,404.26 L599.32,404.91 L598.29,405.54 L597.27,406.17 L596.24,406.78 L595.22,407.37 L594.19,407.96 L593.16,408.53 L592.14,409.09 L591.11,409.64 L590.08,410.18 L589.06,410.71 L588.03,411.23 L587,411.74 L585.98,412.24 L584.95,412.72 L583.92,413.2 L582.9,413.67 L581.87,414.13 L580.84,414.58 L579.82,415.02 L578.79,415.45 L577.77,415.87 L576.74,416.29 L575.71,416.69 L574.69,417.09 L573.66,417.48 L572.63,417.86 L571.61,418.24 L570.58,418.6 L569.55,418.96 L568.53,419.32 L567.5,419.66 L566.47,420 L565.45,420.33 L564.42,420.66 L563.39,420.97 L562.37,421.29 L561.34,421.59 L560.32,421.89 L559.29,422.18 L558.26,422.47 L557.24,422.75 L556.21,423.03 L555.18,423.3 L554.16,423.57 L553.13,423.83 L552.1,424.08 L551.08,424.33 L550.05,424.57 L549.02,424.81 L548,425.05 L546.97,425.28 L545.94,425.5 Z" fill="#e5e5e5"/>
<path d="M545.94,398.45 L546.97,398.36 L548,398.27 L549.02,398.17 L550.05,398.08 L551.08,397.99 L552.1,397.89 L553.13,397.8 L554.16,397.7 L555.18,397.61 L556.21,397.52 L557.24,397.42 L558.26,397.33 L559.29,397.23 L560.32,397.13 L561.34,397.04 L562.37,396.94 L563.39,396.85 L564.42,396.75 L565.45,396.65 L566.47,396.56 L567.5,396.46 L568.53,396.36 L569.55,396.26 L570.58,396.17 L571.61,396.07 L572.63,395.97 L573.66,395.87 L574.69,395.77 L575.71,395.67 L576.74,395.57 L577.77,395.47 L578.79,395.37 L579.82,395.27 L580.84,395.17 L581.87,395.07 L582.9,394.97 L583.92,394.87 L584.95,394.77 L585.98,394.67 L587,394.57 L588.03,394.46 L589.06,394.36 L590.08,394.26 L591.11,394.16 L592.14,394.05 L593.16,393.95 L594.19,393.85 L595.22,393.74 L596.24,393.64 L597.27,393.53 L598.29,393.43 L599.32,393.32 L600.35,393.22 L601.37,393.11 L602.4,393.01 L603.43,392.9 L604.45,392.8 L605.48,392.69 L606.51,392.58 L607.53,392.48 L608.56,392.37 L609.59,392.26 L610.61,392.15 L611.64,392.05 L612.67,391.94 L613.69,391.83 L614.72,391.72 L615.74,391.61 L616.77,391.5 L617.8,391.39 L618.82,391.28 L619.85,391.17 L620.88,391.06 L621.9,390.95 L622.93,390.84 L623.96,390.73 L624.98,390.62 L626.01,390.51 L627.04,390.4 L628.06,390.28 L629.09,390.17 L630.12,390.06 L631.14,389.95 L632.17,389.83 L633.19,389.72 L634.22,389.61 L635.25,389.49 L636.27,389.38 L637.3,389.26 L638.33,389.15 L639.35,389.03 L640.38,388.92 L641.41,388.8 L642.43,388.68 L643.46,388.57 L644.49,388.45 L645.51,388.33 L646.54,388.22 L647.56,388.1 L648.59,387.98 L649.62,387.86 L650.64,387.75 L651.67,387.63 L652.7,387.51 L653.72,387.39 L654.75,387.27 L655.78,387.15 L656.8,387.03 L657.83,386.91 L658.86,386.79 L659.88,386.67 L660.91,386.55 L661.94,386.42 L662.96,386.3 L663.99,386.18 L665.01,386.06 L666.04,385.93 L667.07,385.81 L668.09,385.69" fill="none" stroke="#d0506e" stroke-width="1.1"/>
</g>
<line x1="540.8" y1="391.5" x2="672.7" y2="391.5" stroke="#3c3c3c" stroke-width="1"/>
<path d="M540.8,249.5 V439.5 H672.7" fill="none" stroke="#7d7d7d" stroke-width="1.1"/>
<line x1="537.8" y1="436.5" x2="540.8" y2="436.5" stroke="#7d7d7d" stroke-width="1"/>
<line x1="537.8" y1="391.45" x2="540.8" y2="391.45" stroke="#7d7d7d" stroke-width="1"/>
<line x1="537.8" y1="346.4" x2="540.8" y2="346.4" stroke="#7d7d7d" stroke-width="1"/>
<line x1="537.8" y1="301.35" x2="540.8" y2="301.35" stroke="#7d7d7d" stroke-width="1"/>
<line x1="537.8" y1="256.3" x2="540.8" y2="256.3" stroke="#7d7d7d" stroke-width="1"/>
<line x1="549.45" y1="439.5" x2="549.45" y2="443.1" stroke="#7d7d7d" stroke-width="1"/>
<line x1="566.97" y1="439.5" x2="566.97" y2="443.1" stroke="#7d7d7d" stroke-width="1"/>
<line x1="584.5" y1="439.5" x2="584.5" y2="443.1" stroke="#7d7d7d" stroke-width="1"/>
<line x1="602.02" y1="439.5" x2="602.02" y2="443.1" stroke="#7d7d7d" stroke-width="1"/>
<line x1="619.55" y1="439.5" x2="619.55" y2="443.1" stroke="#7d7d7d" stroke-width="1"/>
<line x1="637.07" y1="439.5" x2="637.07" y2="443.1" stroke="#7d7d7d" stroke-width="1"/>
<line x1="654.6" y1="439.5" x2="654.6" y2="443.1" stroke="#7d7d7d" stroke-width="1"/>
<line x1="672.12" y1="439.5" x2="672.12" y2="443.1" stroke="#7d7d7d" stroke-width="1"/>
<g style="filter:grayscale(1)">
<text x="17.9" y="190.7" transform="rotate(-90 17.9 190.7)" text-anchor="middle" class="tk tkr">0</text>
<text x="17.9" y="145.76" transform="rotate(-90 17.9 145.76)" text-anchor="middle" class="tk tkr">2</text>
<text x="17.9" y="100.82" transform="rotate(-90 17.9 100.82)" text-anchor="middle" class="tk tkr">4</text>
<text x="17.9" y="55.88" transform="rotate(-90 17.9 55.88)" text-anchor="middle" class="tk tkr">6</text>
<text x="17.9" y="10.94" transform="rotate(-90 17.9 10.94)" text-anchor="middle" class="tk tkr">8</text>
<text x="31.7" y="205.0" text-anchor="middle" class="tk">-5</text>
<text x="45.02" y="205.0" text-anchor="middle" class="tk">0</text>
<text x="58.33" y="205.0" text-anchor="middle" class="tk">5</text>
<text x="71.64" y="205.0" text-anchor="middle" class="tk">10</text>
<text x="98.27" y="205.0" text-anchor="middle" class="tk">20</text>
<text x="124.91" y="205.0" text-anchor="middle" class="tk">30</text>
<text x="75" y="216.7" text-anchor="middle" class="lb">Temperature/<tspan fill="#555" stroke="#555">°C</tspan></text>
<text x="6" y="98.4" transform="rotate(-90 6 98.4)" text-anchor="middle" class="rr" textLength="11" lengthAdjust="spacingAndGlyphs">RR</text>
<text x="54.3" y="13.7" class="tt"><tspan font-weight="bold">(a)</tspan> 0-1 weeks</text>
<text x="155.7" y="190.7" transform="rotate(-90 155.7 190.7)" text-anchor="middle" class="tk tkr">0</text>
<text x="155.7" y="145.76" transform="rotate(-90 155.7 145.76)" text-anchor="middle" class="tk tkr">2</text>
<text x="155.7" y="100.82" transform="rotate(-90 155.7 100.82)" text-anchor="middle" class="tk tkr">4</text>
<text x="155.7" y="55.88" transform="rotate(-90 155.7 55.88)" text-anchor="middle" class="tk tkr">6</text>
<text x="155.7" y="10.94" transform="rotate(-90 155.7 10.94)" text-anchor="middle" class="tk tkr">8</text>
<text x="169.5" y="205.0" text-anchor="middle" class="tk">-5</text>
<text x="182.81" y="205.0" text-anchor="middle" class="tk">0</text>
<text x="196.13" y="205.0" text-anchor="middle" class="tk">5</text>
<text x="209.44" y="205.0" text-anchor="middle" class="tk">10</text>
<text x="236.07" y="205.0" text-anchor="middle" class="tk">20</text>
<text x="262.7" y="205.0" text-anchor="middle" class="tk">30</text>
<text x="212.8" y="216.7" text-anchor="middle" class="lb">Temperature/<tspan fill="#555" stroke="#555">°C</tspan></text>
<text x="143.8" y="98.4" transform="rotate(-90 143.8 98.4)" text-anchor="middle" class="rr" textLength="11" lengthAdjust="spacingAndGlyphs">RR</text>
<text x="192.1" y="13.7" class="tt"><tspan font-weight="bold">(b)</tspan> 1-2 weeks</text>
<text x="294.1" y="190.7" transform="rotate(-90 294.1 190.7)" text-anchor="middle" class="tk tkr">0</text>
<text x="294.1" y="145.76" transform="rotate(-90 294.1 145.76)" text-anchor="middle" class="tk tkr">2</text>
<text x="294.1" y="100.82" transform="rotate(-90 294.1 100.82)" text-anchor="middle" class="tk tkr">4</text>
<text x="294.1" y="55.88" transform="rotate(-90 294.1 55.88)" text-anchor="middle" class="tk tkr">6</text>
<text x="294.1" y="10.94" transform="rotate(-90 294.1 10.94)" text-anchor="middle" class="tk tkr">8</text>
<text x="307.9" y="205.0" text-anchor="middle" class="tk">-5</text>
<text x="321.21" y="205.0" text-anchor="middle" class="tk">0</text>
<text x="334.53" y="205.0" text-anchor="middle" class="tk">5</text>
<text x="347.84" y="205.0" text-anchor="middle" class="tk">10</text>
<text x="374.47" y="205.0" text-anchor="middle" class="tk">20</text>
<text x="401.1" y="205.0" text-anchor="middle" class="tk">30</text>
<text x="351.2" y="216.7" text-anchor="middle" class="lb">Temperature/<tspan fill="#555" stroke="#555">°C</tspan></text>
<text x="282.2" y="98.4" transform="rotate(-90 282.2 98.4)" text-anchor="middle" class="rr" textLength="11" lengthAdjust="spacingAndGlyphs">RR</text>
<text x="330.5" y="13.7" class="tt"><tspan font-weight="bold">(c)</tspan> 2-3 weeks</text>
<text x="432.7" y="190.7" transform="rotate(-90 432.7 190.7)" text-anchor="middle" class="tk tkr">0</text>
<text x="432.7" y="145.76" transform="rotate(-90 432.7 145.76)" text-anchor="middle" class="tk tkr">2</text>
<text x="432.7" y="100.82" transform="rotate(-90 432.7 100.82)" text-anchor="middle" class="tk tkr">4</text>
<text x="432.7" y="55.88" transform="rotate(-90 432.7 55.88)" text-anchor="middle" class="tk tkr">6</text>
<text x="432.7" y="10.94" transform="rotate(-90 432.7 10.94)" text-anchor="middle" class="tk tkr">8</text>
<text x="446.5" y="205.0" text-anchor="middle" class="tk">-5</text>
<text x="459.81" y="205.0" text-anchor="middle" class="tk">0</text>
<text x="473.13" y="205.0" text-anchor="middle" class="tk">5</text>
<text x="486.44" y="205.0" text-anchor="middle" class="tk">10</text>
<text x="513.08" y="205.0" text-anchor="middle" class="tk">20</text>
<text x="539.71" y="205.0" text-anchor="middle" class="tk">30</text>
<text x="489.8" y="216.7" text-anchor="middle" class="lb">Temperature/<tspan fill="#555" stroke="#555">°C</tspan></text>
<text x="420.8" y="98.4" transform="rotate(-90 420.8 98.4)" text-anchor="middle" class="rr" textLength="11" lengthAdjust="spacingAndGlyphs">RR</text>
<text x="469.1" y="13.7" class="tt"><tspan font-weight="bold">(d)</tspan> 3-4 weeks</text>
<text x="570.9" y="190.7" transform="rotate(-90 570.9 190.7)" text-anchor="middle" class="tk tkr">0</text>
<text x="570.9" y="145.76" transform="rotate(-90 570.9 145.76)" text-anchor="middle" class="tk tkr">2</text>
<text x="570.9" y="100.82" transform="rotate(-90 570.9 100.82)" text-anchor="middle" class="tk tkr">4</text>
<text x="570.9" y="55.88" transform="rotate(-90 570.9 55.88)" text-anchor="middle" class="tk tkr">6</text>
<text x="570.9" y="10.94" transform="rotate(-90 570.9 10.94)" text-anchor="middle" class="tk tkr">8</text>
<text x="584.7" y="205.0" text-anchor="middle" class="tk">-5</text>
<text x="598.02" y="205.0" text-anchor="middle" class="tk">0</text>
<text x="611.33" y="205.0" text-anchor="middle" class="tk">5</text>
<text x="624.65" y="205.0" text-anchor="middle" class="tk">10</text>
<text x="651.28" y="205.0" text-anchor="middle" class="tk">20</text>
<text x="677.91" y="205.0" text-anchor="middle" class="tk">30</text>
<text x="628" y="216.7" text-anchor="middle" class="lb">Temperature/<tspan fill="#555" stroke="#555">°C</tspan></text>
<text x="559" y="98.4" transform="rotate(-90 559 98.4)" text-anchor="middle" class="rr" textLength="11" lengthAdjust="spacingAndGlyphs">RR</text>
<text x="607.3" y="13.7" class="tt"><tspan font-weight="bold">(e)</tspan> 0-4 weeks</text>
<text x="24.2" y="436.5" transform="rotate(-90 24.2 436.5)" text-anchor="middle" class="tk tkr">0</text>
<text x="24.2" y="391.45" transform="rotate(-90 24.2 391.45)" text-anchor="middle" class="tk tkr">1</text>
<text x="24.2" y="346.4" transform="rotate(-90 24.2 346.4)" text-anchor="middle" class="tk tkr">2</text>
<text x="24.2" y="301.35" transform="rotate(-90 24.2 301.35)" text-anchor="middle" class="tk tkr">3</text>
<text x="24.2" y="256.3" transform="rotate(-90 24.2 256.3)" text-anchor="middle" class="tk tkr">4</text>
<text x="35.7" y="450.6" text-anchor="middle" class="tk">0</text>
<text x="66.3" y="450.6" text-anchor="middle" class="tk">1</text>
<text x="96.9" y="450.6" text-anchor="middle" class="tk">2</text>
<text x="127.5" y="450.6" text-anchor="middle" class="tk">3</text>
<text x="158.1" y="450.6" text-anchor="middle" class="tk">4</text>
<text x="96.9" y="462.5" text-anchor="middle" class="lb">Lag</text>
<text x="11.6" y="344.3" transform="rotate(-90 11.6 344.3)" text-anchor="middle" class="rr" textLength="11" lengthAdjust="spacingAndGlyphs">RR</text>
<text x="57.2" y="258.9" class="tt"><tspan font-weight="bold">(f)</tspan> Temperature:4<tspan fill="#555" stroke="#555">°C</tspan></text>
<text x="194.2" y="436.5" transform="rotate(-90 194.2 436.5)" text-anchor="middle" class="tk tkr">0</text>
<text x="194.2" y="391.45" transform="rotate(-90 194.2 391.45)" text-anchor="middle" class="tk tkr">1</text>
<text x="194.2" y="346.4" transform="rotate(-90 194.2 346.4)" text-anchor="middle" class="tk tkr">2</text>
<text x="194.2" y="301.35" transform="rotate(-90 194.2 301.35)" text-anchor="middle" class="tk tkr">3</text>
<text x="194.2" y="256.3" transform="rotate(-90 194.2 256.3)" text-anchor="middle" class="tk tkr">4</text>
<text x="205.7" y="450.6" text-anchor="middle" class="tk">0</text>
<text x="236.3" y="450.6" text-anchor="middle" class="tk">1</text>
<text x="266.9" y="450.6" text-anchor="middle" class="tk">2</text>
<text x="297.5" y="450.6" text-anchor="middle" class="tk">3</text>
<text x="328.1" y="450.6" text-anchor="middle" class="tk">4</text>
<text x="266.9" y="462.5" text-anchor="middle" class="lb">Lag</text>
<text x="181.6" y="344.3" transform="rotate(-90 181.6 344.3)" text-anchor="middle" class="rr" textLength="11" lengthAdjust="spacingAndGlyphs">RR</text>
<text x="223.2" y="258.9" class="tt"><tspan font-weight="bold">(g)</tspan> Temperature:24<tspan fill="#555" stroke="#555">°C</tspan></text>
<text x="363.95" y="436.5" transform="rotate(-90 363.95 436.5)" text-anchor="middle" class="tk tkr">0</text>
<text x="363.95" y="391.45" transform="rotate(-90 363.95 391.45)" text-anchor="middle" class="tk tkr">1</text>
<text x="363.95" y="346.4" transform="rotate(-90 363.95 346.4)" text-anchor="middle" class="tk tkr">2</text>
<text x="363.95" y="301.35" transform="rotate(-90 363.95 301.35)" text-anchor="middle" class="tk tkr">3</text>
<text x="363.95" y="256.3" transform="rotate(-90 363.95 256.3)" text-anchor="middle" class="tk tkr">4</text>
<text x="379.3" y="450.6" text-anchor="middle" class="tk">-5</text>
<text x="396.82" y="450.6" text-anchor="middle" class="tk">0</text>
<text x="414.35" y="450.6" text-anchor="middle" class="tk">5</text>
<text x="431.87" y="450.6" text-anchor="middle" class="tk">10</text>
<text x="449.4" y="450.6" text-anchor="middle" class="tk">15</text>
<text x="466.92" y="450.6" text-anchor="middle" class="tk">20</text>
<text x="484.45" y="450.6" text-anchor="middle" class="tk">25</text>
<text x="501.97" y="450.6" text-anchor="middle" class="tk">30</text>
<text x="436.95" y="462.3" text-anchor="middle" class="lb">Temperature</text>
<text x="351.35" y="344.3" transform="rotate(-90 351.35 344.3)" text-anchor="middle" class="rr" textLength="11" lengthAdjust="spacingAndGlyphs">RR</text>
<text x="415.3" y="258.9" class="tt"><tspan font-weight="bold">(h)</tspan> Lag:1 week</text>
<text x="534.1" y="436.5" transform="rotate(-90 534.1 436.5)" text-anchor="middle" class="tk tkr">0</text>
<text x="534.1" y="391.45" transform="rotate(-90 534.1 391.45)" text-anchor="middle" class="tk tkr">1</text>
<text x="534.1" y="346.4" transform="rotate(-90 534.1 346.4)" text-anchor="middle" class="tk tkr">2</text>
<text x="534.1" y="301.35" transform="rotate(-90 534.1 301.35)" text-anchor="middle" class="tk tkr">3</text>
<text x="534.1" y="256.3" transform="rotate(-90 534.1 256.3)" text-anchor="middle" class="tk tkr">4</text>
<text x="549.45" y="450.6" text-anchor="middle" class="tk">-5</text>
<text x="566.97" y="450.6" text-anchor="middle" class="tk">0</text>
<text x="584.5" y="450.6" text-anchor="middle" class="tk">5</text>
<text x="602.02" y="450.6" text-anchor="middle" class="tk">10</text>
<text x="619.55" y="450.6" text-anchor="middle" class="tk">15</text>
<text x="637.07" y="450.6" text-anchor="middle" class="tk">20</text>
<text x="654.6" y="450.6" text-anchor="middle" class="tk">25</text>
<text x="672.12" y="450.6" text-anchor="middle" class="tk">30</text>
<text x="607.1" y="462.3" text-anchor="middle" class="lb">Temperature</text>
<text x="521.5" y="344.3" transform="rotate(-90 521.5 344.3)" text-anchor="middle" class="rr" textLength="11" lengthAdjust="spacingAndGlyphs">RR</text>
<text x="587.2" y="258.9" class="tt"><tspan font-weight="bold">(i)</tspan> Lag:4 week</text>
</g>
</svg>
</body></html>
